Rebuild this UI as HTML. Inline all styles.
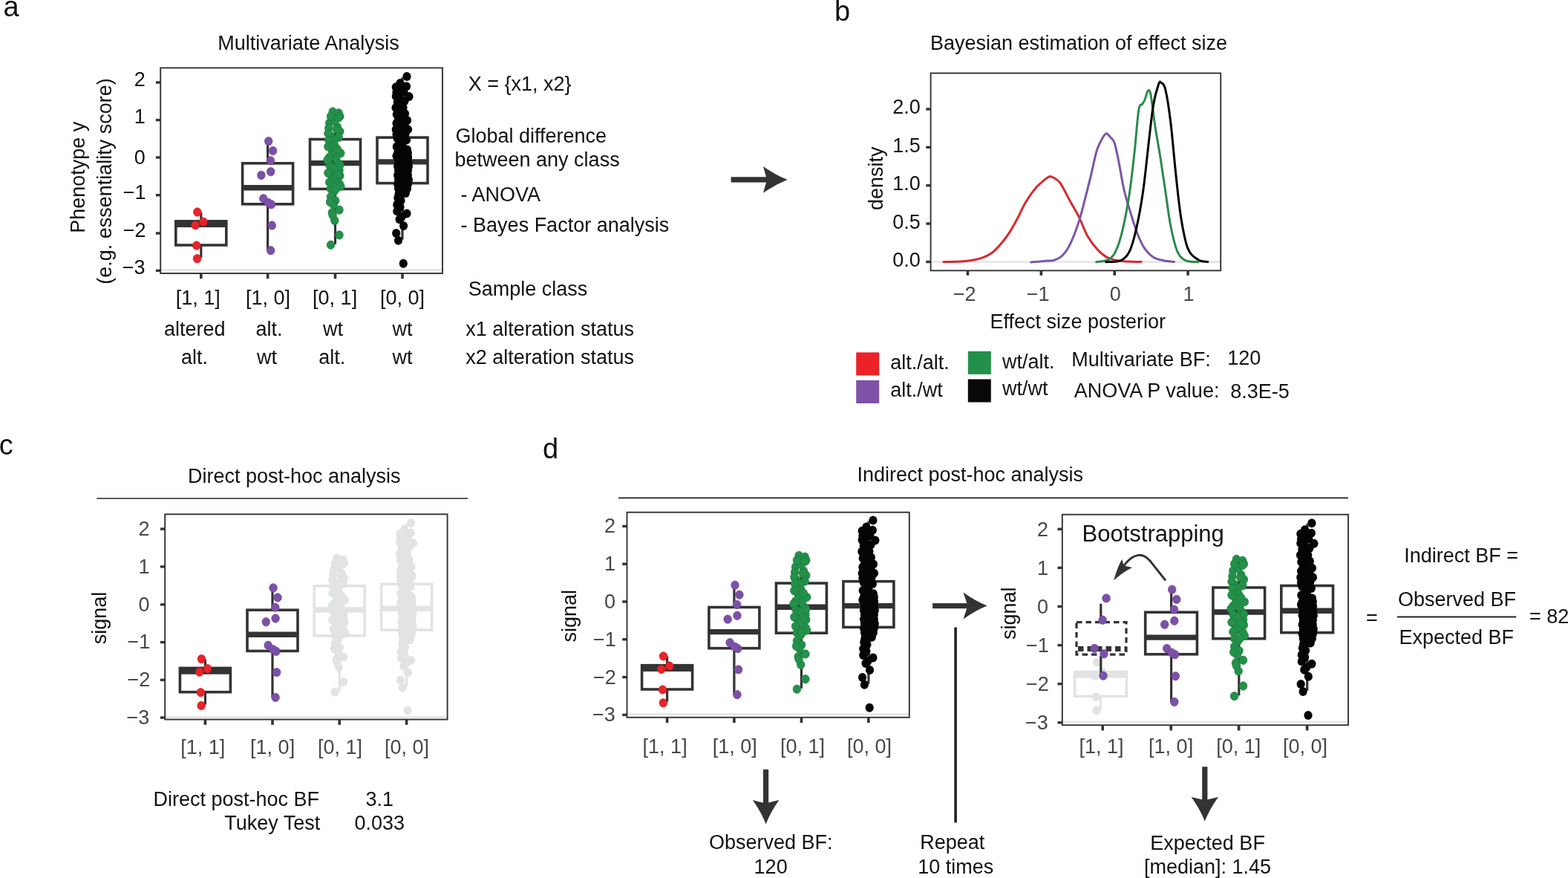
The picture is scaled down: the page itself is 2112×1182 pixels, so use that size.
<!DOCTYPE html>
<html><head><meta charset="utf-8"><title>Figure</title><style>html,body{margin:0;padding:0;background:#fff;overflow:hidden}svg{display:block}</style></head><body>
<svg width="2112" height="1182" viewBox="0 0 2112 1182" style="font-family:'Liberation Sans',Arial,Helvetica,sans-serif">
<rect width="2112" height="1182" fill="#fff"/>
<text x="4.40" y="22.00" font-size="38" fill="#111111">a</text>
<text x="293.20" y="66.80" font-size="27" fill="#111111">Multivariate Analysis</text>
<rect x="216.2" y="91.4" width="379.8" height="276.6" fill="#fff"/>
<line x1="216.20" y1="363.50" x2="596.00" y2="363.50" stroke="#E8E8E8" stroke-width="3.2" />
<line x1="270.80" y1="297.80" x2="270.80" y2="285.80" stroke="#333333" stroke-width="3.2" />
<line x1="270.80" y1="330.00" x2="270.80" y2="346.90" stroke="#333333" stroke-width="3.2" />
<rect x="236.8" y="297.8" width="68.0" height="32.2" fill="none" stroke="#333333" stroke-width="3.6"/>
<line x1="236.80" y1="302.40" x2="304.80" y2="302.40" stroke="#333333" stroke-width="7.4" />
<ellipse cx="265.8" cy="285.5" rx="5.3" ry="5.7" fill="#E8232A" stroke="#d41c22" stroke-width="0.7"/>
<ellipse cx="273.9" cy="298.6" rx="5.3" ry="5.7" fill="#E8232A" stroke="#d41c22" stroke-width="0.7"/>
<ellipse cx="263.1" cy="303.1" rx="5.3" ry="5.7" fill="#E8232A" stroke="#d41c22" stroke-width="0.7"/>
<ellipse cx="264.7" cy="330.5" rx="5.3" ry="5.7" fill="#E8232A" stroke="#d41c22" stroke-width="0.7"/>
<ellipse cx="265.5" cy="348.2" rx="5.3" ry="5.7" fill="#E8232A" stroke="#d41c22" stroke-width="0.7"/>
<line x1="360.60" y1="219.80" x2="360.60" y2="190.90" stroke="#333333" stroke-width="3.2" />
<line x1="360.60" y1="274.80" x2="360.60" y2="337.20" stroke="#333333" stroke-width="3.2" />
<rect x="326.6" y="219.8" width="68.0" height="55.0" fill="none" stroke="#333333" stroke-width="3.6"/>
<line x1="326.60" y1="252.80" x2="394.60" y2="252.80" stroke="#333333" stroke-width="7.4" />
<ellipse cx="361.7" cy="190.1" rx="5.3" ry="5.7" fill="#7D50A8" stroke="#6c4396" stroke-width="0.7"/>
<ellipse cx="367.6" cy="203.0" rx="5.3" ry="5.7" fill="#7D50A8" stroke="#6c4396" stroke-width="0.7"/>
<ellipse cx="364.4" cy="216.3" rx="5.3" ry="5.7" fill="#7D50A8" stroke="#6c4396" stroke-width="0.7"/>
<ellipse cx="364.7" cy="231.1" rx="5.3" ry="5.7" fill="#7D50A8" stroke="#6c4396" stroke-width="0.7"/>
<ellipse cx="351.9" cy="235.9" rx="5.3" ry="5.7" fill="#7D50A8" stroke="#6c4396" stroke-width="0.7"/>
<ellipse cx="354.8" cy="267.3" rx="5.3" ry="5.7" fill="#7D50A8" stroke="#6c4396" stroke-width="0.7"/>
<ellipse cx="365.5" cy="275.3" rx="5.3" ry="5.7" fill="#7D50A8" stroke="#6c4396" stroke-width="0.7"/>
<ellipse cx="361.5" cy="272.9" rx="5.3" ry="5.7" fill="#7D50A8" stroke="#6c4396" stroke-width="0.7"/>
<ellipse cx="366.3" cy="303.5" rx="5.3" ry="5.7" fill="#7D50A8" stroke="#6c4396" stroke-width="0.7"/>
<ellipse cx="364.7" cy="337.2" rx="5.3" ry="5.7" fill="#7D50A8" stroke="#6c4396" stroke-width="0.7"/>
<line x1="451.50" y1="187.50" x2="451.50" y2="148.00" stroke="#333333" stroke-width="3.2" />
<line x1="451.50" y1="254.40" x2="451.50" y2="328.80" stroke="#333333" stroke-width="3.2" />
<rect x="417.5" y="187.5" width="68.0" height="66.9" fill="none" stroke="#333333" stroke-width="3.6"/>
<line x1="417.50" y1="219.60" x2="485.50" y2="219.60" stroke="#333333" stroke-width="7.4" />
<ellipse cx="448.2" cy="150.4" rx="5.3" ry="5.7" fill="#23914A" stroke="#1c7a3c" stroke-width="0.7"/>
<ellipse cx="456.1" cy="152.2" rx="5.3" ry="5.7" fill="#23914A" stroke="#1c7a3c" stroke-width="0.7"/>
<ellipse cx="457.9" cy="156.6" rx="5.3" ry="5.7" fill="#23914A" stroke="#1c7a3c" stroke-width="0.7"/>
<ellipse cx="443.7" cy="165.5" rx="5.3" ry="5.7" fill="#23914A" stroke="#1c7a3c" stroke-width="0.7"/>
<ellipse cx="442.8" cy="172.6" rx="5.3" ry="5.7" fill="#23914A" stroke="#1c7a3c" stroke-width="0.7"/>
<ellipse cx="454.4" cy="170.8" rx="5.3" ry="5.7" fill="#23914A" stroke="#1c7a3c" stroke-width="0.7"/>
<ellipse cx="457.9" cy="177.0" rx="5.3" ry="5.7" fill="#23914A" stroke="#1c7a3c" stroke-width="0.7"/>
<ellipse cx="445.5" cy="183.2" rx="5.3" ry="5.7" fill="#23914A" stroke="#1c7a3c" stroke-width="0.7"/>
<ellipse cx="456.1" cy="185.0" rx="5.3" ry="5.7" fill="#23914A" stroke="#1c7a3c" stroke-width="0.7"/>
<ellipse cx="449.9" cy="188.6" rx="5.3" ry="5.7" fill="#23914A" stroke="#1c7a3c" stroke-width="0.7"/>
<ellipse cx="444.6" cy="193.9" rx="5.3" ry="5.7" fill="#23914A" stroke="#1c7a3c" stroke-width="0.7"/>
<ellipse cx="450.8" cy="195.7" rx="5.3" ry="5.7" fill="#23914A" stroke="#1c7a3c" stroke-width="0.7"/>
<ellipse cx="458.8" cy="206.3" rx="5.3" ry="5.7" fill="#23914A" stroke="#1c7a3c" stroke-width="0.7"/>
<ellipse cx="447.3" cy="202.8" rx="5.3" ry="5.7" fill="#23914A" stroke="#1c7a3c" stroke-width="0.7"/>
<ellipse cx="448.2" cy="208.1" rx="5.3" ry="5.7" fill="#23914A" stroke="#1c7a3c" stroke-width="0.7"/>
<ellipse cx="443.7" cy="222.3" rx="5.3" ry="5.7" fill="#23914A" stroke="#1c7a3c" stroke-width="0.7"/>
<ellipse cx="454.4" cy="218.8" rx="5.3" ry="5.7" fill="#23914A" stroke="#1c7a3c" stroke-width="0.7"/>
<ellipse cx="445.5" cy="229.4" rx="5.3" ry="5.7" fill="#23914A" stroke="#1c7a3c" stroke-width="0.7"/>
<ellipse cx="457.0" cy="229.4" rx="5.3" ry="5.7" fill="#23914A" stroke="#1c7a3c" stroke-width="0.7"/>
<ellipse cx="446.4" cy="236.5" rx="5.3" ry="5.7" fill="#23914A" stroke="#1c7a3c" stroke-width="0.7"/>
<ellipse cx="457.9" cy="236.5" rx="5.3" ry="5.7" fill="#23914A" stroke="#1c7a3c" stroke-width="0.7"/>
<ellipse cx="448.2" cy="243.6" rx="5.3" ry="5.7" fill="#23914A" stroke="#1c7a3c" stroke-width="0.7"/>
<ellipse cx="457.0" cy="247.1" rx="5.3" ry="5.7" fill="#23914A" stroke="#1c7a3c" stroke-width="0.7"/>
<ellipse cx="458.8" cy="250.7" rx="5.3" ry="5.7" fill="#23914A" stroke="#1c7a3c" stroke-width="0.7"/>
<ellipse cx="445.5" cy="254.2" rx="5.3" ry="5.7" fill="#23914A" stroke="#1c7a3c" stroke-width="0.7"/>
<ellipse cx="449.9" cy="257.8" rx="5.3" ry="5.7" fill="#23914A" stroke="#1c7a3c" stroke-width="0.7"/>
<ellipse cx="445.5" cy="264.9" rx="5.3" ry="5.7" fill="#23914A" stroke="#1c7a3c" stroke-width="0.7"/>
<ellipse cx="451.7" cy="270.2" rx="5.3" ry="5.7" fill="#23914A" stroke="#1c7a3c" stroke-width="0.7"/>
<ellipse cx="449.1" cy="275.5" rx="5.3" ry="5.7" fill="#23914A" stroke="#1c7a3c" stroke-width="0.7"/>
<ellipse cx="457.0" cy="282.6" rx="5.3" ry="5.7" fill="#23914A" stroke="#1c7a3c" stroke-width="0.7"/>
<ellipse cx="447.3" cy="286.2" rx="5.3" ry="5.7" fill="#23914A" stroke="#1c7a3c" stroke-width="0.7"/>
<ellipse cx="450.8" cy="296.9" rx="5.3" ry="5.7" fill="#23914A" stroke="#1c7a3c" stroke-width="0.7"/>
<ellipse cx="457.0" cy="316.4" rx="5.3" ry="5.7" fill="#23914A" stroke="#1c7a3c" stroke-width="0.7"/>
<ellipse cx="445.5" cy="329.7" rx="5.3" ry="5.7" fill="#23914A" stroke="#1c7a3c" stroke-width="0.7"/>
<ellipse cx="452.6" cy="213.4" rx="5.3" ry="5.7" fill="#23914A" stroke="#1c7a3c" stroke-width="0.7"/>
<ellipse cx="451.7" cy="225.8" rx="5.3" ry="5.7" fill="#23914A" stroke="#1c7a3c" stroke-width="0.7"/>
<ellipse cx="450.8" cy="240.1" rx="5.3" ry="5.7" fill="#23914A" stroke="#1c7a3c" stroke-width="0.7"/>
<ellipse cx="453.5" cy="174.4" rx="5.3" ry="5.7" fill="#23914A" stroke="#1c7a3c" stroke-width="0.7"/>
<ellipse cx="450.8" cy="161.9" rx="5.3" ry="5.7" fill="#23914A" stroke="#1c7a3c" stroke-width="0.7"/>
<ellipse cx="441.9" cy="179.7" rx="5.3" ry="5.7" fill="#23914A" stroke="#1c7a3c" stroke-width="0.7"/>
<ellipse cx="442.8" cy="188.6" rx="5.3" ry="5.7" fill="#23914A" stroke="#1c7a3c" stroke-width="0.7"/>
<ellipse cx="443.7" cy="211.6" rx="5.3" ry="5.7" fill="#23914A" stroke="#1c7a3c" stroke-width="0.7"/>
<ellipse cx="441.9" cy="232.9" rx="5.3" ry="5.7" fill="#23914A" stroke="#1c7a3c" stroke-width="0.7"/>
<ellipse cx="454.4" cy="201.0" rx="5.3" ry="5.7" fill="#23914A" stroke="#1c7a3c" stroke-width="0.7"/>
<ellipse cx="455.3" cy="234.7" rx="5.3" ry="5.7" fill="#23914A" stroke="#1c7a3c" stroke-width="0.7"/>
<ellipse cx="443.7" cy="245.4" rx="5.3" ry="5.7" fill="#23914A" stroke="#1c7a3c" stroke-width="0.7"/>
<ellipse cx="452.6" cy="254.2" rx="5.3" ry="5.7" fill="#23914A" stroke="#1c7a3c" stroke-width="0.7"/>
<ellipse cx="444.6" cy="272.0" rx="5.3" ry="5.7" fill="#23914A" stroke="#1c7a3c" stroke-width="0.7"/>
<ellipse cx="448.2" cy="289.8" rx="5.3" ry="5.7" fill="#23914A" stroke="#1c7a3c" stroke-width="0.7"/>
<ellipse cx="456.1" cy="158.4" rx="5.3" ry="5.7" fill="#23914A" stroke="#1c7a3c" stroke-width="0.7"/>
<ellipse cx="445.5" cy="156.6" rx="5.3" ry="5.7" fill="#23914A" stroke="#1c7a3c" stroke-width="0.7"/>
<ellipse cx="441.9" cy="197.4" rx="5.3" ry="5.7" fill="#23914A" stroke="#1c7a3c" stroke-width="0.7"/>
<ellipse cx="457.9" cy="222.3" rx="5.3" ry="5.7" fill="#23914A" stroke="#1c7a3c" stroke-width="0.7"/>
<ellipse cx="441.1" cy="215.2" rx="5.3" ry="5.7" fill="#23914A" stroke="#1c7a3c" stroke-width="0.7"/>
<line x1="542.00" y1="185.10" x2="542.00" y2="104.20" stroke="#333333" stroke-width="3.2" />
<line x1="542.00" y1="246.60" x2="542.00" y2="322.50" stroke="#333333" stroke-width="3.2" />
<rect x="508.0" y="185.1" width="68.0" height="61.5" fill="none" stroke="#333333" stroke-width="3.6"/>
<line x1="508.00" y1="217.90" x2="576.00" y2="217.90" stroke="#333333" stroke-width="7.4" />
<ellipse cx="548.0" cy="103.1" rx="5.6" ry="6.0" fill="#050505"/>
<ellipse cx="547.5" cy="116.3" rx="5.6" ry="6.0" fill="#050505"/>
<ellipse cx="533.3" cy="117.3" rx="5.6" ry="6.0" fill="#050505"/>
<ellipse cx="551.0" cy="130.0" rx="5.6" ry="6.0" fill="#050505"/>
<ellipse cx="533.3" cy="129.5" rx="5.6" ry="6.0" fill="#050505"/>
<ellipse cx="535.3" cy="137.6" rx="5.6" ry="6.0" fill="#050505"/>
<ellipse cx="538.3" cy="142.7" rx="5.6" ry="6.0" fill="#050505"/>
<ellipse cx="534.3" cy="153.9" rx="5.6" ry="6.0" fill="#050505"/>
<ellipse cx="545.5" cy="152.9" rx="5.6" ry="6.0" fill="#050505"/>
<ellipse cx="548.5" cy="162.0" rx="5.6" ry="6.0" fill="#050505"/>
<ellipse cx="536.3" cy="162.0" rx="5.6" ry="6.0" fill="#050505"/>
<ellipse cx="533.3" cy="174.2" rx="5.6" ry="6.0" fill="#050505"/>
<ellipse cx="549.5" cy="174.2" rx="5.6" ry="6.0" fill="#050505"/>
<ellipse cx="541.4" cy="172.1" rx="5.6" ry="6.0" fill="#050505"/>
<ellipse cx="535.3" cy="186.4" rx="5.6" ry="6.0" fill="#050505"/>
<ellipse cx="547.5" cy="188.4" rx="5.6" ry="6.0" fill="#050505"/>
<ellipse cx="534.3" cy="197.5" rx="5.6" ry="6.0" fill="#050505"/>
<ellipse cx="548.5" cy="201.6" rx="5.6" ry="6.0" fill="#050505"/>
<ellipse cx="539.4" cy="211.7" rx="5.6" ry="6.0" fill="#050505"/>
<ellipse cx="549.5" cy="211.7" rx="5.6" ry="6.0" fill="#050505"/>
<ellipse cx="535.9" cy="266.6" rx="5.6" ry="6.0" fill="#050505"/>
<ellipse cx="534.8" cy="275.4" rx="5.6" ry="6.0" fill="#050505"/>
<ellipse cx="534.8" cy="284.2" rx="5.6" ry="6.0" fill="#050505"/>
<ellipse cx="548.0" cy="287.5" rx="5.6" ry="6.0" fill="#050505"/>
<ellipse cx="538.1" cy="295.2" rx="5.6" ry="6.0" fill="#050505"/>
<ellipse cx="543.6" cy="304.0" rx="5.6" ry="6.0" fill="#050505"/>
<ellipse cx="533.7" cy="313.9" rx="5.6" ry="6.0" fill="#050505"/>
<ellipse cx="536.5" cy="323.8" rx="5.6" ry="6.0" fill="#050505"/>
<ellipse cx="543.3" cy="354.7" rx="5.6" ry="6.0" fill="#050505"/>
<ellipse cx="540.0" cy="123.0" rx="5.6" ry="6.0" fill="#050505"/>
<ellipse cx="538.0" cy="133.0" rx="5.6" ry="6.0" fill="#050505"/>
<ellipse cx="540.0" cy="148.0" rx="5.6" ry="6.0" fill="#050505"/>
<ellipse cx="541.0" cy="158.0" rx="5.6" ry="6.0" fill="#050505"/>
<ellipse cx="542.0" cy="166.0" rx="5.6" ry="6.0" fill="#050505"/>
<ellipse cx="540.0" cy="180.0" rx="5.6" ry="6.0" fill="#050505"/>
<ellipse cx="541.0" cy="192.0" rx="5.6" ry="6.0" fill="#050505"/>
<ellipse cx="540.0" cy="204.0" rx="5.6" ry="6.0" fill="#050505"/>
<ellipse cx="536.0" cy="208.0" rx="5.6" ry="6.0" fill="#050505"/>
<ellipse cx="539.0" cy="112.0" rx="5.6" ry="6.0" fill="#050505"/>
<ellipse cx="538.0" cy="120.0" rx="5.6" ry="6.0" fill="#050505"/>
<ellipse cx="534.0" cy="124.0" rx="5.6" ry="6.0" fill="#050505"/>
<ellipse cx="537.0" cy="128.0" rx="5.6" ry="6.0" fill="#050505"/>
<ellipse cx="544.0" cy="124.0" rx="5.6" ry="6.0" fill="#050505"/>
<ellipse cx="545.0" cy="136.0" rx="5.6" ry="6.0" fill="#050505"/>
<ellipse cx="539.0" cy="139.0" rx="5.6" ry="6.0" fill="#050505"/>
<ellipse cx="533.0" cy="145.0" rx="5.6" ry="6.0" fill="#050505"/>
<ellipse cx="538.0" cy="150.0" rx="5.6" ry="6.0" fill="#050505"/>
<ellipse cx="543.0" cy="145.0" rx="5.6" ry="6.0" fill="#050505"/>
<ellipse cx="544.0" cy="158.0" rx="5.6" ry="6.0" fill="#050505"/>
<ellipse cx="534.0" cy="166.0" rx="5.6" ry="6.0" fill="#050505"/>
<ellipse cx="539.0" cy="170.0" rx="5.6" ry="6.0" fill="#050505"/>
<ellipse cx="545.0" cy="168.0" rx="5.6" ry="6.0" fill="#050505"/>
<ellipse cx="546.0" cy="180.0" rx="5.6" ry="6.0" fill="#050505"/>
<ellipse cx="534.0" cy="181.0" rx="5.6" ry="6.0" fill="#050505"/>
<ellipse cx="538.0" cy="186.0" rx="5.6" ry="6.0" fill="#050505"/>
<ellipse cx="542.0" cy="197.0" rx="5.6" ry="6.0" fill="#050505"/>
<ellipse cx="537.0" cy="202.0" rx="5.6" ry="6.0" fill="#050505"/>
<ellipse cx="545.0" cy="206.0" rx="5.6" ry="6.0" fill="#050505"/>
<ellipse cx="534.0" cy="210.0" rx="5.6" ry="6.0" fill="#050505"/>
<ellipse cx="540.0" cy="270.0" rx="5.6" ry="6.0" fill="#050505"/>
<ellipse cx="539.0" cy="279.0" rx="5.6" ry="6.0" fill="#050505"/>
<ellipse cx="541.0" cy="292.0" rx="5.6" ry="6.0" fill="#050505"/>
<ellipse cx="537.0" cy="262.0" rx="5.6" ry="6.0" fill="#050505"/>
<ellipse cx="535.6" cy="206.0" rx="5.6" ry="6.0" fill="#050505"/>
<ellipse cx="539.6" cy="206.0" rx="5.6" ry="6.0" fill="#050505"/>
<ellipse cx="543.6" cy="206.0" rx="5.6" ry="6.0" fill="#050505"/>
<ellipse cx="547.6" cy="206.0" rx="5.6" ry="6.0" fill="#050505"/>
<ellipse cx="549.4" cy="206.0" rx="5.6" ry="6.0" fill="#050505"/>
<ellipse cx="535.6" cy="212.0" rx="5.6" ry="6.0" fill="#050505"/>
<ellipse cx="539.6" cy="212.0" rx="5.6" ry="6.0" fill="#050505"/>
<ellipse cx="543.6" cy="212.0" rx="5.6" ry="6.0" fill="#050505"/>
<ellipse cx="547.6" cy="212.0" rx="5.6" ry="6.0" fill="#050505"/>
<ellipse cx="549.4" cy="212.0" rx="5.6" ry="6.0" fill="#050505"/>
<ellipse cx="536.6" cy="218.0" rx="5.6" ry="6.0" fill="#050505"/>
<ellipse cx="540.6" cy="218.0" rx="5.6" ry="6.0" fill="#050505"/>
<ellipse cx="544.6" cy="218.0" rx="5.6" ry="6.0" fill="#050505"/>
<ellipse cx="548.6" cy="218.0" rx="5.6" ry="6.0" fill="#050505"/>
<ellipse cx="549.4" cy="218.0" rx="5.6" ry="6.0" fill="#050505"/>
<ellipse cx="535.6" cy="224.0" rx="5.6" ry="6.0" fill="#050505"/>
<ellipse cx="539.6" cy="224.0" rx="5.6" ry="6.0" fill="#050505"/>
<ellipse cx="543.6" cy="224.0" rx="5.6" ry="6.0" fill="#050505"/>
<ellipse cx="547.6" cy="224.0" rx="5.6" ry="6.0" fill="#050505"/>
<ellipse cx="550.4" cy="224.0" rx="5.6" ry="6.0" fill="#050505"/>
<ellipse cx="536.6" cy="230.0" rx="5.6" ry="6.0" fill="#050505"/>
<ellipse cx="540.6" cy="230.0" rx="5.6" ry="6.0" fill="#050505"/>
<ellipse cx="544.6" cy="230.0" rx="5.6" ry="6.0" fill="#050505"/>
<ellipse cx="548.6" cy="230.0" rx="5.6" ry="6.0" fill="#050505"/>
<ellipse cx="549.4" cy="230.0" rx="5.6" ry="6.0" fill="#050505"/>
<ellipse cx="535.6" cy="236.0" rx="5.6" ry="6.0" fill="#050505"/>
<ellipse cx="539.6" cy="236.0" rx="5.6" ry="6.0" fill="#050505"/>
<ellipse cx="543.6" cy="236.0" rx="5.6" ry="6.0" fill="#050505"/>
<ellipse cx="547.6" cy="236.0" rx="5.6" ry="6.0" fill="#050505"/>
<ellipse cx="549.4" cy="236.0" rx="5.6" ry="6.0" fill="#050505"/>
<ellipse cx="536.6" cy="242.0" rx="5.6" ry="6.0" fill="#050505"/>
<ellipse cx="540.6" cy="242.0" rx="5.6" ry="6.0" fill="#050505"/>
<ellipse cx="544.6" cy="242.0" rx="5.6" ry="6.0" fill="#050505"/>
<ellipse cx="548.6" cy="242.0" rx="5.6" ry="6.0" fill="#050505"/>
<ellipse cx="550.4" cy="242.0" rx="5.6" ry="6.0" fill="#050505"/>
<ellipse cx="535.6" cy="248.0" rx="5.6" ry="6.0" fill="#050505"/>
<ellipse cx="539.6" cy="248.0" rx="5.6" ry="6.0" fill="#050505"/>
<ellipse cx="543.6" cy="248.0" rx="5.6" ry="6.0" fill="#050505"/>
<ellipse cx="547.6" cy="248.0" rx="5.6" ry="6.0" fill="#050505"/>
<ellipse cx="549.4" cy="248.0" rx="5.6" ry="6.0" fill="#050505"/>
<ellipse cx="536.6" cy="254.0" rx="5.6" ry="6.0" fill="#050505"/>
<ellipse cx="540.6" cy="254.0" rx="5.6" ry="6.0" fill="#050505"/>
<ellipse cx="544.6" cy="254.0" rx="5.6" ry="6.0" fill="#050505"/>
<ellipse cx="548.4" cy="254.0" rx="5.6" ry="6.0" fill="#050505"/>
<ellipse cx="537.6" cy="260.0" rx="5.6" ry="6.0" fill="#050505"/>
<ellipse cx="541.6" cy="260.0" rx="5.6" ry="6.0" fill="#050505"/>
<ellipse cx="545.6" cy="260.0" rx="5.6" ry="6.0" fill="#050505"/>
<ellipse cx="546.4" cy="260.0" rx="5.6" ry="6.0" fill="#050505"/>
<rect x="216.2" y="91.4" width="379.8" height="276.6" fill="none" stroke="#333333" stroke-width="1.9"/>
<line x1="209.90" y1="111.00" x2="216.20" y2="111.00" stroke="#333333" stroke-width="3.4" />
<text x="180.80" y="115.80" font-size="27" fill="#111111">2</text>
<line x1="209.90" y1="161.60" x2="216.20" y2="161.60" stroke="#333333" stroke-width="3.4" />
<text x="180.80" y="166.40" font-size="27" fill="#111111">1</text>
<line x1="209.90" y1="212.00" x2="216.20" y2="212.00" stroke="#333333" stroke-width="3.4" />
<text x="180.80" y="220.60" font-size="27" fill="#111111">0</text>
<line x1="209.90" y1="262.70" x2="216.20" y2="262.70" stroke="#333333" stroke-width="3.4" />
<text x="165.80" y="267.80" font-size="27" fill="#111111">−1</text>
<line x1="209.90" y1="314.00" x2="216.20" y2="314.00" stroke="#333333" stroke-width="3.4" />
<text x="165.80" y="318.70" font-size="27" fill="#111111">−2</text>
<line x1="209.90" y1="364.30" x2="216.20" y2="364.30" stroke="#333333" stroke-width="3.4" />
<text x="164.80" y="369.00" font-size="27" fill="#111111">−3</text>
<line x1="270.80" y1="368.00" x2="270.80" y2="375.20" stroke="#333333" stroke-width="3.6" />
<line x1="360.60" y1="368.00" x2="360.60" y2="375.20" stroke="#333333" stroke-width="3.6" />
<line x1="451.50" y1="368.00" x2="451.50" y2="375.20" stroke="#333333" stroke-width="3.6" />
<line x1="542.00" y1="368.00" x2="542.00" y2="375.20" stroke="#333333" stroke-width="3.6" />
<text x="236.80" y="409.60" font-size="27" fill="#111111">[1, 1]</text>
<text x="331.00" y="409.60" font-size="27" fill="#111111">[1, 0]</text>
<text x="421.10" y="409.60" font-size="27" fill="#111111">[0, 1]</text>
<text x="512.00" y="409.60" font-size="27" fill="#111111">[0, 0]</text>
<text transform="translate(114.30,313.80) rotate(-90)" font-size="27" fill="#111111">Phenotype y</text>
<text transform="translate(149.50,382.80) rotate(-90)" font-size="27" fill="#111111">(e.g. essentiality score)</text>
<text x="630.70" y="121.70" font-size="27" fill="#111111">X = {x1, x2}</text>
<text x="613.50" y="191.60" font-size="27" fill="#111111">Global difference</text>
<text x="612.50" y="223.90" font-size="27" fill="#111111">between any class</text>
<text x="620.60" y="271.30" font-size="27" fill="#111111">- ANOVA</text>
<text x="620.60" y="311.60" font-size="27" fill="#111111">- Bayes Factor analysis</text>
<text x="630.70" y="397.90" font-size="27" fill="#111111">Sample class</text>
<text x="220.90" y="452.10" font-size="27" fill="#111111">altered</text>
<text x="344.50" y="452.10" font-size="27" fill="#111111">alt.</text>
<text x="435.00" y="452.10" font-size="27" fill="#111111">wt</text>
<text x="528.40" y="452.10" font-size="27" fill="#111111">wt</text>
<text x="627.30" y="452.10" font-size="27" fill="#111111">x1 alteration status</text>
<text x="244.00" y="489.80" font-size="27" fill="#111111">alt.</text>
<text x="345.90" y="489.80" font-size="27" fill="#111111">wt</text>
<text x="429.20" y="489.80" font-size="27" fill="#111111">alt.</text>
<text x="528.40" y="489.80" font-size="27" fill="#111111">wt</text>
<text x="627.30" y="489.80" font-size="27" fill="#111111">x2 alteration status</text>
<rect x="984.6" y="238.25" width="49" height="7.3" fill="#333"/>
<path d="M1060.50,241.90 Q1044.25,248.25 1028.00,259.80 Q1030.75,249.96 1033.00,241.90 Q1030.75,233.84 1028.00,224.00 Q1044.25,235.55 1060.50,241.90 Z" fill="#333"/>
<text x="1124.10" y="28.10" font-size="38" fill="#111111">b</text>
<text x="1252.90" y="66.90" font-size="27" fill="#111111">Bayesian estimation of effect size</text>
<rect x="1253.6" y="98.5" width="390.6" height="265.8" fill="#fff"/>
<line x1="1253.60" y1="352.50" x2="1644.20" y2="352.50" stroke="#E8E8E8" stroke-width="3" />
<path d="M1270.9,352.7 C1274.6,352.6 1286.5,352.5 1293.1,352.1 C1299.7,351.7 1305.1,351.2 1310.4,350.3 C1315.7,349.4 1320.5,348.1 1324.8,346.4 C1329.1,344.7 1332.5,343.1 1336.3,340.2 C1340.1,337.2 1344.0,333.1 1347.8,328.7 C1351.6,324.3 1355.5,319.5 1359.3,313.6 C1363.1,307.7 1367.2,300.2 1370.8,293.5 C1374.4,286.8 1377.1,279.8 1380.9,273.3 C1384.7,266.8 1390.2,259.1 1393.8,254.6 C1397.4,250.0 1399.3,248.8 1402.4,246.0 C1405.5,243.2 1409.9,239.3 1412.5,238.1 C1415.1,236.9 1415.6,237.5 1418.2,238.8 C1420.8,240.2 1424.0,240.7 1427.9,246.2 C1431.9,251.7 1437.6,264.1 1441.9,271.8 C1446.2,279.6 1449.6,284.9 1453.5,292.7 C1457.4,300.4 1460.8,310.9 1465.1,318.3 C1469.4,325.7 1474.4,332.0 1479.1,336.9 C1483.8,341.8 1487.6,344.9 1493.0,347.4 C1498.4,349.8 1504.2,350.8 1511.6,351.6 C1519.0,352.5 1532.9,352.4 1537.2,352.5" fill="none" stroke="#D52A30" stroke-width="3.0" stroke-linejoin="round" stroke-linecap="round"/>
<path d="M1388.8,353.1 C1392.0,352.8 1403.0,351.8 1408.2,351.3 C1413.4,350.8 1415.9,351.6 1419.7,350.3 C1423.5,349.1 1427.5,347.6 1431.2,343.8 C1434.9,340.0 1438.2,335.3 1441.9,327.6 C1445.6,319.9 1450.0,308.2 1453.5,297.4 C1457.0,286.5 1460.1,273.0 1462.8,262.5 C1465.5,252.0 1467.5,244.3 1469.8,234.6 C1472.1,224.9 1474.7,211.7 1476.8,204.3 C1478.9,196.9 1480.5,194.5 1482.6,190.4 C1484.7,186.3 1487.5,180.9 1489.6,179.9 C1491.7,178.9 1493.5,182.5 1495.4,184.6 C1497.3,186.7 1499.3,187.1 1501.2,192.7 C1503.1,198.3 1504.9,207.8 1507.0,218.3 C1509.1,228.8 1511.3,243.9 1514.0,255.5 C1516.7,267.1 1520.2,278.0 1523.3,288.1 C1526.4,298.2 1529.5,308.2 1532.6,316.0 C1535.7,323.8 1538.4,329.6 1541.9,334.6 C1545.4,339.6 1549.2,343.5 1553.5,346.2 C1557.8,348.9 1562.8,349.8 1567.5,350.8 C1572.2,351.9 1579.1,352.2 1581.4,352.5" fill="none" stroke="#7B55A7" stroke-width="3.0" stroke-linejoin="round" stroke-linecap="round"/>
<path d="M1476.8,352.7 C1479.5,352.2 1488.8,351.9 1493.0,349.7 C1497.2,347.4 1499.2,345.6 1502.3,339.2 C1505.4,332.8 1508.5,324.1 1511.6,311.3 C1514.7,298.5 1518.3,279.9 1521.0,262.5 C1523.7,245.1 1525.8,225.6 1527.9,206.6 C1530.0,187.6 1532.0,159.5 1533.7,148.5 C1535.5,137.5 1537.0,142.7 1538.4,140.4 C1539.8,138.1 1540.6,137.5 1541.9,134.5 C1543.2,131.5 1544.8,123.6 1546.1,122.4 C1547.4,121.2 1548.4,119.8 1550.0,127.6 C1551.6,135.4 1553.7,155.4 1555.8,169.4 C1557.9,183.4 1560.5,196.6 1562.8,211.3 C1565.1,226.0 1567.5,242.3 1569.8,257.8 C1572.1,273.3 1574.1,290.7 1576.8,304.3 C1579.5,317.9 1582.6,331.4 1586.1,339.2 C1589.6,347.0 1593.0,348.6 1597.7,350.9 C1602.4,353.1 1611.3,352.4 1614.0,352.7" fill="none" stroke="#2B8A4C" stroke-width="3.0" stroke-linejoin="round" stroke-linecap="round"/>
<path d="M1489.6,352.7 C1492.9,352.4 1504.1,353.1 1509.3,350.9 C1514.5,348.6 1517.5,346.2 1521.0,339.2 C1524.5,332.2 1527.2,322.6 1530.3,309.0 C1533.4,295.4 1536.7,278.0 1539.6,257.8 C1542.5,237.6 1545.4,207.4 1547.7,188.0 C1550.0,168.6 1551.4,153.9 1553.5,141.5 C1555.6,129.1 1558.8,118.6 1560.5,113.6 C1562.2,108.6 1562.5,110.1 1564.0,111.3 C1565.5,112.5 1567.7,111.7 1569.8,120.6 C1571.9,129.5 1574.5,145.8 1576.8,164.8 C1579.1,183.8 1581.5,213.3 1583.8,234.6 C1586.1,255.9 1588.0,276.0 1590.7,292.7 C1593.4,309.4 1596.1,325.1 1600.0,334.6 C1603.9,344.1 1609.5,346.7 1614.0,349.7 C1618.5,352.7 1624.7,352.0 1626.8,352.5" fill="none" stroke="#000" stroke-width="3.0" stroke-linejoin="round" stroke-linecap="round"/>
<rect x="1253.6" y="98.5" width="390.6" height="265.8" fill="none" stroke="#333333" stroke-width="1.9"/>
<line x1="1247.30" y1="352.50" x2="1253.60" y2="352.50" stroke="#333333" stroke-width="3.4" />
<text x="1202.20" y="358.90" font-size="27" fill="#111111">0.0</text>
<line x1="1247.30" y1="301.10" x2="1253.60" y2="301.10" stroke="#333333" stroke-width="3.4" />
<text x="1202.20" y="307.50" font-size="27" fill="#111111">0.5</text>
<line x1="1247.30" y1="249.70" x2="1253.60" y2="249.70" stroke="#333333" stroke-width="3.4" />
<text x="1202.20" y="256.10" font-size="27" fill="#111111">1.0</text>
<line x1="1247.30" y1="198.30" x2="1253.60" y2="198.30" stroke="#333333" stroke-width="3.4" />
<text x="1202.20" y="204.70" font-size="27" fill="#111111">1.5</text>
<line x1="1247.30" y1="146.90" x2="1253.60" y2="146.90" stroke="#333333" stroke-width="3.4" />
<text x="1202.20" y="153.30" font-size="27" fill="#111111">2.0</text>
<line x1="1303.50" y1="364.30" x2="1303.50" y2="370.80" stroke="#333333" stroke-width="3.6" />
<text x="1283.80" y="404.70" font-size="27" fill="#474747">−2</text>
<line x1="1402.35" y1="364.30" x2="1402.35" y2="370.80" stroke="#333333" stroke-width="3.6" />
<text x="1382.70" y="404.70" font-size="27" fill="#474747">−1</text>
<line x1="1501.20" y1="364.30" x2="1501.20" y2="370.80" stroke="#333333" stroke-width="3.6" />
<text x="1494.80" y="404.70" font-size="27" fill="#474747">0</text>
<line x1="1600.05" y1="364.30" x2="1600.05" y2="370.80" stroke="#333333" stroke-width="3.6" />
<text x="1593.50" y="404.70" font-size="27" fill="#474747">1</text>
<text x="1333.40" y="441.60" font-size="27" fill="#111111">Effect size posterior</text>
<text transform="translate(1188.80,283.10) rotate(-90)" font-size="27" fill="#111111">density</text>
<rect x="1153.2" y="474.4" width="31" height="31" fill="#EC2227"/>
<rect x="1153.2" y="512" width="31" height="31" fill="#7F51A7"/>
<rect x="1303.8" y="472.9" width="31" height="31" fill="#22904A"/>
<rect x="1303.8" y="510.5" width="31" height="31" fill="#080808"/>
<text x="1199.20" y="497.00" font-size="27" fill="#111111">alt./alt.</text>
<text x="1199.20" y="533.70" font-size="27" fill="#111111">alt./wt</text>
<text x="1350.00" y="495.50" font-size="27" fill="#111111">wt/alt.</text>
<text x="1350.00" y="532.00" font-size="27" fill="#111111">wt/wt</text>
<text x="1443.30" y="493.00" font-size="27" fill="#111111">Multivariate BF:</text>
<text x="1653.30" y="491.00" font-size="27" fill="#111111">120</text>
<text x="1446.80" y="535.00" font-size="27" fill="#111111">ANOVA P value:</text>
<text x="1657.20" y="535.70" font-size="27" fill="#111111">8.3E-5</text>
<text x="-1.20" y="612.20" font-size="38" fill="#111111">c</text>
<text x="252.90" y="649.60" font-size="27" fill="#111111">Direct post-hoc analysis</text>
<line x1="130.30" y1="671.00" x2="630.00" y2="671.00" stroke="#222" stroke-width="1.7" />
<rect x="222.2" y="692.3" width="380.4" height="276.3" fill="#fff"/>
<line x1="222.20" y1="965.30" x2="602.60" y2="965.30" stroke="#E8E8E8" stroke-width="3.2" />
<line x1="276.40" y1="899.42" x2="276.40" y2="887.38" stroke="#333333" stroke-width="3.2" />
<line x1="276.40" y1="931.71" x2="276.40" y2="948.65" stroke="#333333" stroke-width="3.2" />
<rect x="242.4" y="899.4" width="68.0" height="32.3" fill="none" stroke="#333333" stroke-width="3.6"/>
<line x1="242.40" y1="904.03" x2="310.40" y2="904.03" stroke="#333333" stroke-width="7.4" />
<ellipse cx="271.4" cy="887.1" rx="5.3" ry="5.7" fill="#E8232A" stroke="#d41c22" stroke-width="0.7"/>
<ellipse cx="279.5" cy="900.2" rx="5.3" ry="5.7" fill="#E8232A" stroke="#d41c22" stroke-width="0.7"/>
<ellipse cx="268.7" cy="904.7" rx="5.3" ry="5.7" fill="#E8232A" stroke="#d41c22" stroke-width="0.7"/>
<ellipse cx="270.3" cy="932.2" rx="5.3" ry="5.7" fill="#E8232A" stroke="#d41c22" stroke-width="0.7"/>
<ellipse cx="271.1" cy="950.0" rx="5.3" ry="5.7" fill="#E8232A" stroke="#d41c22" stroke-width="0.7"/>
<line x1="367.00" y1="821.20" x2="367.00" y2="792.22" stroke="#333333" stroke-width="3.2" />
<line x1="367.00" y1="876.35" x2="367.00" y2="938.93" stroke="#333333" stroke-width="3.2" />
<rect x="333.0" y="821.2" width="68.0" height="55.2" fill="none" stroke="#333333" stroke-width="3.6"/>
<line x1="333.00" y1="854.29" x2="401.00" y2="854.29" stroke="#333333" stroke-width="7.4" />
<ellipse cx="368.1" cy="791.4" rx="5.3" ry="5.7" fill="#7D50A8" stroke="#6c4396" stroke-width="0.7"/>
<ellipse cx="374.0" cy="804.4" rx="5.3" ry="5.7" fill="#7D50A8" stroke="#6c4396" stroke-width="0.7"/>
<ellipse cx="370.8" cy="817.7" rx="5.3" ry="5.7" fill="#7D50A8" stroke="#6c4396" stroke-width="0.7"/>
<ellipse cx="371.1" cy="832.5" rx="5.3" ry="5.7" fill="#7D50A8" stroke="#6c4396" stroke-width="0.7"/>
<ellipse cx="358.3" cy="837.3" rx="5.3" ry="5.7" fill="#7D50A8" stroke="#6c4396" stroke-width="0.7"/>
<ellipse cx="361.2" cy="868.8" rx="5.3" ry="5.7" fill="#7D50A8" stroke="#6c4396" stroke-width="0.7"/>
<ellipse cx="371.9" cy="876.9" rx="5.3" ry="5.7" fill="#7D50A8" stroke="#6c4396" stroke-width="0.7"/>
<ellipse cx="367.9" cy="874.4" rx="5.3" ry="5.7" fill="#7D50A8" stroke="#6c4396" stroke-width="0.7"/>
<ellipse cx="372.7" cy="905.1" rx="5.3" ry="5.7" fill="#7D50A8" stroke="#6c4396" stroke-width="0.7"/>
<ellipse cx="371.1" cy="938.9" rx="5.3" ry="5.7" fill="#7D50A8" stroke="#6c4396" stroke-width="0.7"/>
<line x1="457.20" y1="788.81" x2="457.20" y2="749.20" stroke="#E2E4E4" stroke-width="3.2" />
<line x1="457.20" y1="855.90" x2="457.20" y2="930.50" stroke="#E2E4E4" stroke-width="3.2" />
<rect x="423.2" y="788.8" width="68.0" height="67.1" fill="none" stroke="#E2E4E4" stroke-width="3.6"/>
<line x1="423.20" y1="821.00" x2="491.20" y2="821.00" stroke="#E2E4E4" stroke-width="7.4" />
<ellipse cx="453.9" cy="751.6" rx="5.6" ry="6.0" fill="#E2E4E4"/>
<ellipse cx="461.8" cy="753.4" rx="5.6" ry="6.0" fill="#E2E4E4"/>
<ellipse cx="463.6" cy="757.9" rx="5.6" ry="6.0" fill="#E2E4E4"/>
<ellipse cx="449.4" cy="766.8" rx="5.6" ry="6.0" fill="#E2E4E4"/>
<ellipse cx="448.5" cy="773.9" rx="5.6" ry="6.0" fill="#E2E4E4"/>
<ellipse cx="460.1" cy="772.1" rx="5.6" ry="6.0" fill="#E2E4E4"/>
<ellipse cx="463.6" cy="778.3" rx="5.6" ry="6.0" fill="#E2E4E4"/>
<ellipse cx="451.2" cy="784.5" rx="5.6" ry="6.0" fill="#E2E4E4"/>
<ellipse cx="461.8" cy="786.3" rx="5.6" ry="6.0" fill="#E2E4E4"/>
<ellipse cx="455.6" cy="789.9" rx="5.6" ry="6.0" fill="#E2E4E4"/>
<ellipse cx="450.3" cy="795.2" rx="5.6" ry="6.0" fill="#E2E4E4"/>
<ellipse cx="456.5" cy="797.0" rx="5.6" ry="6.0" fill="#E2E4E4"/>
<ellipse cx="464.5" cy="807.7" rx="5.6" ry="6.0" fill="#E2E4E4"/>
<ellipse cx="453.0" cy="804.1" rx="5.6" ry="6.0" fill="#E2E4E4"/>
<ellipse cx="453.9" cy="809.5" rx="5.6" ry="6.0" fill="#E2E4E4"/>
<ellipse cx="449.4" cy="823.7" rx="5.6" ry="6.0" fill="#E2E4E4"/>
<ellipse cx="460.1" cy="820.1" rx="5.6" ry="6.0" fill="#E2E4E4"/>
<ellipse cx="451.2" cy="830.8" rx="5.6" ry="6.0" fill="#E2E4E4"/>
<ellipse cx="462.7" cy="830.8" rx="5.6" ry="6.0" fill="#E2E4E4"/>
<ellipse cx="452.1" cy="837.9" rx="5.6" ry="6.0" fill="#E2E4E4"/>
<ellipse cx="463.6" cy="837.9" rx="5.6" ry="6.0" fill="#E2E4E4"/>
<ellipse cx="453.9" cy="845.1" rx="5.6" ry="6.0" fill="#E2E4E4"/>
<ellipse cx="462.7" cy="848.6" rx="5.6" ry="6.0" fill="#E2E4E4"/>
<ellipse cx="464.5" cy="852.2" rx="5.6" ry="6.0" fill="#E2E4E4"/>
<ellipse cx="451.2" cy="855.7" rx="5.6" ry="6.0" fill="#E2E4E4"/>
<ellipse cx="455.6" cy="859.3" rx="5.6" ry="6.0" fill="#E2E4E4"/>
<ellipse cx="451.2" cy="866.4" rx="5.6" ry="6.0" fill="#E2E4E4"/>
<ellipse cx="457.4" cy="871.8" rx="5.6" ry="6.0" fill="#E2E4E4"/>
<ellipse cx="454.8" cy="877.1" rx="5.6" ry="6.0" fill="#E2E4E4"/>
<ellipse cx="462.7" cy="884.2" rx="5.6" ry="6.0" fill="#E2E4E4"/>
<ellipse cx="453.0" cy="887.8" rx="5.6" ry="6.0" fill="#E2E4E4"/>
<ellipse cx="456.5" cy="898.5" rx="5.6" ry="6.0" fill="#E2E4E4"/>
<ellipse cx="462.7" cy="918.0" rx="5.6" ry="6.0" fill="#E2E4E4"/>
<ellipse cx="451.2" cy="931.4" rx="5.6" ry="6.0" fill="#E2E4E4"/>
<ellipse cx="458.3" cy="814.8" rx="5.6" ry="6.0" fill="#E2E4E4"/>
<ellipse cx="457.4" cy="827.3" rx="5.6" ry="6.0" fill="#E2E4E4"/>
<ellipse cx="456.5" cy="841.5" rx="5.6" ry="6.0" fill="#E2E4E4"/>
<ellipse cx="459.2" cy="775.7" rx="5.6" ry="6.0" fill="#E2E4E4"/>
<ellipse cx="456.5" cy="763.2" rx="5.6" ry="6.0" fill="#E2E4E4"/>
<ellipse cx="447.6" cy="781.0" rx="5.6" ry="6.0" fill="#E2E4E4"/>
<ellipse cx="448.5" cy="789.9" rx="5.6" ry="6.0" fill="#E2E4E4"/>
<ellipse cx="449.4" cy="813.0" rx="5.6" ry="6.0" fill="#E2E4E4"/>
<ellipse cx="447.6" cy="834.4" rx="5.6" ry="6.0" fill="#E2E4E4"/>
<ellipse cx="460.1" cy="802.3" rx="5.6" ry="6.0" fill="#E2E4E4"/>
<ellipse cx="461.0" cy="836.2" rx="5.6" ry="6.0" fill="#E2E4E4"/>
<ellipse cx="449.4" cy="846.8" rx="5.6" ry="6.0" fill="#E2E4E4"/>
<ellipse cx="458.3" cy="855.7" rx="5.6" ry="6.0" fill="#E2E4E4"/>
<ellipse cx="450.3" cy="873.5" rx="5.6" ry="6.0" fill="#E2E4E4"/>
<ellipse cx="453.9" cy="891.3" rx="5.6" ry="6.0" fill="#E2E4E4"/>
<ellipse cx="461.8" cy="759.6" rx="5.6" ry="6.0" fill="#E2E4E4"/>
<ellipse cx="451.2" cy="757.9" rx="5.6" ry="6.0" fill="#E2E4E4"/>
<ellipse cx="447.6" cy="798.8" rx="5.6" ry="6.0" fill="#E2E4E4"/>
<ellipse cx="463.6" cy="823.7" rx="5.6" ry="6.0" fill="#E2E4E4"/>
<ellipse cx="446.8" cy="816.6" rx="5.6" ry="6.0" fill="#E2E4E4"/>
<line x1="547.60" y1="786.40" x2="547.60" y2="705.28" stroke="#E2E4E4" stroke-width="3.2" />
<line x1="547.60" y1="848.07" x2="547.60" y2="924.18" stroke="#E2E4E4" stroke-width="3.2" />
<rect x="513.6" y="786.4" width="68.0" height="61.7" fill="none" stroke="#E2E4E4" stroke-width="3.6"/>
<line x1="513.60" y1="819.30" x2="581.60" y2="819.30" stroke="#E2E4E4" stroke-width="7.4" />
<ellipse cx="553.6" cy="704.2" rx="5.6" ry="6.0" fill="#E2E4E4"/>
<ellipse cx="553.1" cy="717.4" rx="5.6" ry="6.0" fill="#E2E4E4"/>
<ellipse cx="538.9" cy="718.4" rx="5.6" ry="6.0" fill="#E2E4E4"/>
<ellipse cx="556.6" cy="731.2" rx="5.6" ry="6.0" fill="#E2E4E4"/>
<ellipse cx="538.9" cy="730.7" rx="5.6" ry="6.0" fill="#E2E4E4"/>
<ellipse cx="540.9" cy="738.8" rx="5.6" ry="6.0" fill="#E2E4E4"/>
<ellipse cx="543.9" cy="743.9" rx="5.6" ry="6.0" fill="#E2E4E4"/>
<ellipse cx="539.9" cy="755.1" rx="5.6" ry="6.0" fill="#E2E4E4"/>
<ellipse cx="551.1" cy="754.1" rx="5.6" ry="6.0" fill="#E2E4E4"/>
<ellipse cx="554.1" cy="763.2" rx="5.6" ry="6.0" fill="#E2E4E4"/>
<ellipse cx="541.9" cy="763.2" rx="5.6" ry="6.0" fill="#E2E4E4"/>
<ellipse cx="538.9" cy="775.5" rx="5.6" ry="6.0" fill="#E2E4E4"/>
<ellipse cx="555.1" cy="775.5" rx="5.6" ry="6.0" fill="#E2E4E4"/>
<ellipse cx="547.0" cy="773.4" rx="5.6" ry="6.0" fill="#E2E4E4"/>
<ellipse cx="540.9" cy="787.7" rx="5.6" ry="6.0" fill="#E2E4E4"/>
<ellipse cx="553.1" cy="789.7" rx="5.6" ry="6.0" fill="#E2E4E4"/>
<ellipse cx="539.9" cy="798.8" rx="5.6" ry="6.0" fill="#E2E4E4"/>
<ellipse cx="554.1" cy="803.0" rx="5.6" ry="6.0" fill="#E2E4E4"/>
<ellipse cx="545.0" cy="813.1" rx="5.6" ry="6.0" fill="#E2E4E4"/>
<ellipse cx="555.1" cy="813.1" rx="5.6" ry="6.0" fill="#E2E4E4"/>
<ellipse cx="541.5" cy="868.1" rx="5.6" ry="6.0" fill="#E2E4E4"/>
<ellipse cx="540.4" cy="877.0" rx="5.6" ry="6.0" fill="#E2E4E4"/>
<ellipse cx="540.4" cy="885.8" rx="5.6" ry="6.0" fill="#E2E4E4"/>
<ellipse cx="553.6" cy="889.1" rx="5.6" ry="6.0" fill="#E2E4E4"/>
<ellipse cx="543.7" cy="896.8" rx="5.6" ry="6.0" fill="#E2E4E4"/>
<ellipse cx="549.2" cy="905.6" rx="5.6" ry="6.0" fill="#E2E4E4"/>
<ellipse cx="539.3" cy="915.6" rx="5.6" ry="6.0" fill="#E2E4E4"/>
<ellipse cx="542.1" cy="925.5" rx="5.6" ry="6.0" fill="#E2E4E4"/>
<ellipse cx="548.9" cy="956.5" rx="5.6" ry="6.0" fill="#E2E4E4"/>
<ellipse cx="545.6" cy="724.1" rx="5.6" ry="6.0" fill="#E2E4E4"/>
<ellipse cx="543.6" cy="734.2" rx="5.6" ry="6.0" fill="#E2E4E4"/>
<ellipse cx="545.6" cy="749.2" rx="5.6" ry="6.0" fill="#E2E4E4"/>
<ellipse cx="546.6" cy="759.2" rx="5.6" ry="6.0" fill="#E2E4E4"/>
<ellipse cx="547.6" cy="767.3" rx="5.6" ry="6.0" fill="#E2E4E4"/>
<ellipse cx="545.6" cy="781.3" rx="5.6" ry="6.0" fill="#E2E4E4"/>
<ellipse cx="546.6" cy="793.3" rx="5.6" ry="6.0" fill="#E2E4E4"/>
<ellipse cx="545.6" cy="805.4" rx="5.6" ry="6.0" fill="#E2E4E4"/>
<ellipse cx="541.6" cy="809.4" rx="5.6" ry="6.0" fill="#E2E4E4"/>
<ellipse cx="544.6" cy="713.1" rx="5.6" ry="6.0" fill="#E2E4E4"/>
<ellipse cx="543.6" cy="721.1" rx="5.6" ry="6.0" fill="#E2E4E4"/>
<ellipse cx="539.6" cy="725.1" rx="5.6" ry="6.0" fill="#E2E4E4"/>
<ellipse cx="542.6" cy="729.1" rx="5.6" ry="6.0" fill="#E2E4E4"/>
<ellipse cx="549.6" cy="725.1" rx="5.6" ry="6.0" fill="#E2E4E4"/>
<ellipse cx="550.6" cy="737.2" rx="5.6" ry="6.0" fill="#E2E4E4"/>
<ellipse cx="544.6" cy="740.2" rx="5.6" ry="6.0" fill="#E2E4E4"/>
<ellipse cx="538.6" cy="746.2" rx="5.6" ry="6.0" fill="#E2E4E4"/>
<ellipse cx="543.6" cy="751.2" rx="5.6" ry="6.0" fill="#E2E4E4"/>
<ellipse cx="548.6" cy="746.2" rx="5.6" ry="6.0" fill="#E2E4E4"/>
<ellipse cx="549.6" cy="759.2" rx="5.6" ry="6.0" fill="#E2E4E4"/>
<ellipse cx="539.6" cy="767.3" rx="5.6" ry="6.0" fill="#E2E4E4"/>
<ellipse cx="544.6" cy="771.3" rx="5.6" ry="6.0" fill="#E2E4E4"/>
<ellipse cx="550.6" cy="769.3" rx="5.6" ry="6.0" fill="#E2E4E4"/>
<ellipse cx="551.6" cy="781.3" rx="5.6" ry="6.0" fill="#E2E4E4"/>
<ellipse cx="539.6" cy="782.3" rx="5.6" ry="6.0" fill="#E2E4E4"/>
<ellipse cx="543.6" cy="787.3" rx="5.6" ry="6.0" fill="#E2E4E4"/>
<ellipse cx="547.6" cy="798.3" rx="5.6" ry="6.0" fill="#E2E4E4"/>
<ellipse cx="542.6" cy="803.4" rx="5.6" ry="6.0" fill="#E2E4E4"/>
<ellipse cx="550.6" cy="807.4" rx="5.6" ry="6.0" fill="#E2E4E4"/>
<ellipse cx="539.6" cy="811.4" rx="5.6" ry="6.0" fill="#E2E4E4"/>
<ellipse cx="545.6" cy="871.5" rx="5.6" ry="6.0" fill="#E2E4E4"/>
<ellipse cx="544.6" cy="880.6" rx="5.6" ry="6.0" fill="#E2E4E4"/>
<ellipse cx="546.6" cy="893.6" rx="5.6" ry="6.0" fill="#E2E4E4"/>
<ellipse cx="542.6" cy="863.5" rx="5.6" ry="6.0" fill="#E2E4E4"/>
<ellipse cx="541.2" cy="807.4" rx="5.6" ry="6.0" fill="#E2E4E4"/>
<ellipse cx="545.2" cy="807.4" rx="5.6" ry="6.0" fill="#E2E4E4"/>
<ellipse cx="549.2" cy="807.4" rx="5.6" ry="6.0" fill="#E2E4E4"/>
<ellipse cx="553.2" cy="807.4" rx="5.6" ry="6.0" fill="#E2E4E4"/>
<ellipse cx="555.0" cy="807.4" rx="5.6" ry="6.0" fill="#E2E4E4"/>
<ellipse cx="541.2" cy="813.4" rx="5.6" ry="6.0" fill="#E2E4E4"/>
<ellipse cx="545.2" cy="813.4" rx="5.6" ry="6.0" fill="#E2E4E4"/>
<ellipse cx="549.2" cy="813.4" rx="5.6" ry="6.0" fill="#E2E4E4"/>
<ellipse cx="553.2" cy="813.4" rx="5.6" ry="6.0" fill="#E2E4E4"/>
<ellipse cx="555.0" cy="813.4" rx="5.6" ry="6.0" fill="#E2E4E4"/>
<ellipse cx="542.2" cy="819.4" rx="5.6" ry="6.0" fill="#E2E4E4"/>
<ellipse cx="546.2" cy="819.4" rx="5.6" ry="6.0" fill="#E2E4E4"/>
<ellipse cx="550.2" cy="819.4" rx="5.6" ry="6.0" fill="#E2E4E4"/>
<ellipse cx="554.2" cy="819.4" rx="5.6" ry="6.0" fill="#E2E4E4"/>
<ellipse cx="555.0" cy="819.4" rx="5.6" ry="6.0" fill="#E2E4E4"/>
<ellipse cx="541.2" cy="825.4" rx="5.6" ry="6.0" fill="#E2E4E4"/>
<ellipse cx="545.2" cy="825.4" rx="5.6" ry="6.0" fill="#E2E4E4"/>
<ellipse cx="549.2" cy="825.4" rx="5.6" ry="6.0" fill="#E2E4E4"/>
<ellipse cx="553.2" cy="825.4" rx="5.6" ry="6.0" fill="#E2E4E4"/>
<ellipse cx="556.0" cy="825.4" rx="5.6" ry="6.0" fill="#E2E4E4"/>
<ellipse cx="542.2" cy="831.4" rx="5.6" ry="6.0" fill="#E2E4E4"/>
<ellipse cx="546.2" cy="831.4" rx="5.6" ry="6.0" fill="#E2E4E4"/>
<ellipse cx="550.2" cy="831.4" rx="5.6" ry="6.0" fill="#E2E4E4"/>
<ellipse cx="554.2" cy="831.4" rx="5.6" ry="6.0" fill="#E2E4E4"/>
<ellipse cx="555.0" cy="831.4" rx="5.6" ry="6.0" fill="#E2E4E4"/>
<ellipse cx="541.2" cy="837.4" rx="5.6" ry="6.0" fill="#E2E4E4"/>
<ellipse cx="545.2" cy="837.4" rx="5.6" ry="6.0" fill="#E2E4E4"/>
<ellipse cx="549.2" cy="837.4" rx="5.6" ry="6.0" fill="#E2E4E4"/>
<ellipse cx="553.2" cy="837.4" rx="5.6" ry="6.0" fill="#E2E4E4"/>
<ellipse cx="555.0" cy="837.4" rx="5.6" ry="6.0" fill="#E2E4E4"/>
<ellipse cx="542.2" cy="843.5" rx="5.6" ry="6.0" fill="#E2E4E4"/>
<ellipse cx="546.2" cy="843.5" rx="5.6" ry="6.0" fill="#E2E4E4"/>
<ellipse cx="550.2" cy="843.5" rx="5.6" ry="6.0" fill="#E2E4E4"/>
<ellipse cx="554.2" cy="843.5" rx="5.6" ry="6.0" fill="#E2E4E4"/>
<ellipse cx="556.0" cy="843.5" rx="5.6" ry="6.0" fill="#E2E4E4"/>
<ellipse cx="541.2" cy="849.5" rx="5.6" ry="6.0" fill="#E2E4E4"/>
<ellipse cx="545.2" cy="849.5" rx="5.6" ry="6.0" fill="#E2E4E4"/>
<ellipse cx="549.2" cy="849.5" rx="5.6" ry="6.0" fill="#E2E4E4"/>
<ellipse cx="553.2" cy="849.5" rx="5.6" ry="6.0" fill="#E2E4E4"/>
<ellipse cx="555.0" cy="849.5" rx="5.6" ry="6.0" fill="#E2E4E4"/>
<ellipse cx="542.2" cy="855.5" rx="5.6" ry="6.0" fill="#E2E4E4"/>
<ellipse cx="546.2" cy="855.5" rx="5.6" ry="6.0" fill="#E2E4E4"/>
<ellipse cx="550.2" cy="855.5" rx="5.6" ry="6.0" fill="#E2E4E4"/>
<ellipse cx="554.0" cy="855.5" rx="5.6" ry="6.0" fill="#E2E4E4"/>
<ellipse cx="543.2" cy="861.5" rx="5.6" ry="6.0" fill="#E2E4E4"/>
<ellipse cx="547.2" cy="861.5" rx="5.6" ry="6.0" fill="#E2E4E4"/>
<ellipse cx="551.2" cy="861.5" rx="5.6" ry="6.0" fill="#E2E4E4"/>
<ellipse cx="552.0" cy="861.5" rx="5.6" ry="6.0" fill="#E2E4E4"/>
<rect x="222.2" y="692.3" width="380.4" height="276.3" fill="none" stroke="#333333" stroke-width="1.9"/>
<line x1="215.90" y1="712.10" x2="222.20" y2="712.10" stroke="#333333" stroke-width="3.4" />
<text x="186.40" y="720.70" font-size="27" fill="#474747">2</text>
<line x1="215.90" y1="762.90" x2="222.20" y2="762.90" stroke="#333333" stroke-width="3.4" />
<text x="186.40" y="771.50" font-size="27" fill="#474747">1</text>
<line x1="215.90" y1="813.90" x2="222.20" y2="813.90" stroke="#333333" stroke-width="3.4" />
<text x="186.40" y="822.50" font-size="27" fill="#474747">0</text>
<line x1="215.90" y1="864.60" x2="222.20" y2="864.60" stroke="#333333" stroke-width="3.4" />
<text x="171.40" y="873.20" font-size="27" fill="#474747">−1</text>
<line x1="215.90" y1="915.40" x2="222.20" y2="915.40" stroke="#333333" stroke-width="3.4" />
<text x="171.40" y="924.00" font-size="27" fill="#474747">−2</text>
<line x1="215.90" y1="966.10" x2="222.20" y2="966.10" stroke="#333333" stroke-width="3.4" />
<text x="170.40" y="974.70" font-size="27" fill="#474747">−3</text>
<line x1="276.40" y1="968.60" x2="276.40" y2="975.80" stroke="#333333" stroke-width="3.6" />
<line x1="367.00" y1="968.60" x2="367.00" y2="975.80" stroke="#333333" stroke-width="3.6" />
<line x1="457.20" y1="968.60" x2="457.20" y2="975.80" stroke="#333333" stroke-width="3.6" />
<line x1="547.60" y1="968.60" x2="547.60" y2="975.80" stroke="#333333" stroke-width="3.6" />
<text x="243.30" y="1015.30" font-size="27" fill="#474747">[1, 1]</text>
<text x="337.10" y="1015.30" font-size="27" fill="#474747">[1, 0]</text>
<text x="427.90" y="1015.30" font-size="27" fill="#474747">[0, 1]</text>
<text x="518.00" y="1015.30" font-size="27" fill="#474747">[0, 0]</text>
<text transform="translate(142.90,867.20) rotate(-90)" font-size="27" fill="#111111">signal</text>
<text x="206.40" y="1085.40" font-size="27" fill="#111111">Direct post-hoc BF</text>
<text x="492.60" y="1085.40" font-size="27" fill="#111111">3.1</text>
<text x="302.20" y="1116.70" font-size="27" fill="#111111">Tukey Test</text>
<text x="477.40" y="1116.70" font-size="27" fill="#111111">0.033</text>
<text x="730.90" y="616.50" font-size="38" fill="#111111">d</text>
<text x="1154.40" y="647.90" font-size="27" fill="#111111">Indirect post-hoc analysis</text>
<line x1="832.90" y1="670.30" x2="1816.00" y2="670.30" stroke="#222" stroke-width="1.7" />
<rect x="844.5" y="689.7" width="380.3" height="276.1" fill="#fff"/>
<line x1="844.50" y1="961.60" x2="1224.80" y2="961.60" stroke="#E8E8E8" stroke-width="3.2" />
<line x1="898.60" y1="895.72" x2="898.60" y2="883.68" stroke="#333333" stroke-width="3.2" />
<line x1="898.60" y1="928.01" x2="898.60" y2="944.95" stroke="#333333" stroke-width="3.2" />
<rect x="864.6" y="895.7" width="68.0" height="32.3" fill="none" stroke="#333333" stroke-width="3.6"/>
<line x1="864.59" y1="900.33" x2="932.61" y2="900.33" stroke="#333333" stroke-width="7.4" />
<ellipse cx="893.6" cy="883.4" rx="5.3" ry="5.7" fill="#E8232A" stroke="#d41c22" stroke-width="0.7"/>
<ellipse cx="901.7" cy="896.5" rx="5.3" ry="5.7" fill="#E8232A" stroke="#d41c22" stroke-width="0.7"/>
<ellipse cx="890.9" cy="901.0" rx="5.3" ry="5.7" fill="#E8232A" stroke="#d41c22" stroke-width="0.7"/>
<ellipse cx="892.5" cy="928.5" rx="5.3" ry="5.7" fill="#E8232A" stroke="#d41c22" stroke-width="0.7"/>
<ellipse cx="893.3" cy="946.3" rx="5.3" ry="5.7" fill="#E8232A" stroke="#d41c22" stroke-width="0.7"/>
<line x1="988.90" y1="817.50" x2="988.90" y2="788.52" stroke="#333333" stroke-width="3.2" />
<line x1="988.90" y1="872.65" x2="988.90" y2="935.23" stroke="#333333" stroke-width="3.2" />
<rect x="954.9" y="817.5" width="68.0" height="55.2" fill="none" stroke="#333333" stroke-width="3.6"/>
<line x1="954.89" y1="850.59" x2="1022.91" y2="850.59" stroke="#333333" stroke-width="7.4" />
<ellipse cx="990.0" cy="787.7" rx="5.3" ry="5.7" fill="#7D50A8" stroke="#6c4396" stroke-width="0.7"/>
<ellipse cx="995.9" cy="800.7" rx="5.3" ry="5.7" fill="#7D50A8" stroke="#6c4396" stroke-width="0.7"/>
<ellipse cx="992.7" cy="814.0" rx="5.3" ry="5.7" fill="#7D50A8" stroke="#6c4396" stroke-width="0.7"/>
<ellipse cx="993.0" cy="828.8" rx="5.3" ry="5.7" fill="#7D50A8" stroke="#6c4396" stroke-width="0.7"/>
<ellipse cx="980.2" cy="833.6" rx="5.3" ry="5.7" fill="#7D50A8" stroke="#6c4396" stroke-width="0.7"/>
<ellipse cx="983.1" cy="865.1" rx="5.3" ry="5.7" fill="#7D50A8" stroke="#6c4396" stroke-width="0.7"/>
<ellipse cx="993.8" cy="873.2" rx="5.3" ry="5.7" fill="#7D50A8" stroke="#6c4396" stroke-width="0.7"/>
<ellipse cx="989.8" cy="870.7" rx="5.3" ry="5.7" fill="#7D50A8" stroke="#6c4396" stroke-width="0.7"/>
<ellipse cx="994.6" cy="901.4" rx="5.3" ry="5.7" fill="#7D50A8" stroke="#6c4396" stroke-width="0.7"/>
<ellipse cx="993.0" cy="935.2" rx="5.3" ry="5.7" fill="#7D50A8" stroke="#6c4396" stroke-width="0.7"/>
<line x1="1079.40" y1="785.11" x2="1079.40" y2="745.50" stroke="#333333" stroke-width="3.2" />
<line x1="1079.40" y1="852.20" x2="1079.40" y2="926.80" stroke="#333333" stroke-width="3.2" />
<rect x="1045.4" y="785.1" width="68.0" height="67.1" fill="none" stroke="#333333" stroke-width="3.6"/>
<line x1="1045.39" y1="817.30" x2="1113.41" y2="817.30" stroke="#333333" stroke-width="7.4" />
<ellipse cx="1076.1" cy="747.9" rx="5.3" ry="5.7" fill="#23914A" stroke="#1c7a3c" stroke-width="0.7"/>
<ellipse cx="1084.1" cy="749.7" rx="5.3" ry="5.7" fill="#23914A" stroke="#1c7a3c" stroke-width="0.7"/>
<ellipse cx="1085.8" cy="754.2" rx="5.3" ry="5.7" fill="#23914A" stroke="#1c7a3c" stroke-width="0.7"/>
<ellipse cx="1071.6" cy="763.1" rx="5.3" ry="5.7" fill="#23914A" stroke="#1c7a3c" stroke-width="0.7"/>
<ellipse cx="1070.7" cy="770.2" rx="5.3" ry="5.7" fill="#23914A" stroke="#1c7a3c" stroke-width="0.7"/>
<ellipse cx="1082.3" cy="768.4" rx="5.3" ry="5.7" fill="#23914A" stroke="#1c7a3c" stroke-width="0.7"/>
<ellipse cx="1085.8" cy="774.6" rx="5.3" ry="5.7" fill="#23914A" stroke="#1c7a3c" stroke-width="0.7"/>
<ellipse cx="1073.4" cy="780.8" rx="5.3" ry="5.7" fill="#23914A" stroke="#1c7a3c" stroke-width="0.7"/>
<ellipse cx="1084.1" cy="782.6" rx="5.3" ry="5.7" fill="#23914A" stroke="#1c7a3c" stroke-width="0.7"/>
<ellipse cx="1077.8" cy="786.2" rx="5.3" ry="5.7" fill="#23914A" stroke="#1c7a3c" stroke-width="0.7"/>
<ellipse cx="1072.5" cy="791.5" rx="5.3" ry="5.7" fill="#23914A" stroke="#1c7a3c" stroke-width="0.7"/>
<ellipse cx="1078.7" cy="793.3" rx="5.3" ry="5.7" fill="#23914A" stroke="#1c7a3c" stroke-width="0.7"/>
<ellipse cx="1086.7" cy="804.0" rx="5.3" ry="5.7" fill="#23914A" stroke="#1c7a3c" stroke-width="0.7"/>
<ellipse cx="1075.2" cy="800.4" rx="5.3" ry="5.7" fill="#23914A" stroke="#1c7a3c" stroke-width="0.7"/>
<ellipse cx="1076.1" cy="805.8" rx="5.3" ry="5.7" fill="#23914A" stroke="#1c7a3c" stroke-width="0.7"/>
<ellipse cx="1071.6" cy="820.0" rx="5.3" ry="5.7" fill="#23914A" stroke="#1c7a3c" stroke-width="0.7"/>
<ellipse cx="1082.3" cy="816.4" rx="5.3" ry="5.7" fill="#23914A" stroke="#1c7a3c" stroke-width="0.7"/>
<ellipse cx="1073.4" cy="827.1" rx="5.3" ry="5.7" fill="#23914A" stroke="#1c7a3c" stroke-width="0.7"/>
<ellipse cx="1084.9" cy="827.1" rx="5.3" ry="5.7" fill="#23914A" stroke="#1c7a3c" stroke-width="0.7"/>
<ellipse cx="1074.3" cy="834.2" rx="5.3" ry="5.7" fill="#23914A" stroke="#1c7a3c" stroke-width="0.7"/>
<ellipse cx="1085.8" cy="834.2" rx="5.3" ry="5.7" fill="#23914A" stroke="#1c7a3c" stroke-width="0.7"/>
<ellipse cx="1076.1" cy="841.4" rx="5.3" ry="5.7" fill="#23914A" stroke="#1c7a3c" stroke-width="0.7"/>
<ellipse cx="1084.9" cy="844.9" rx="5.3" ry="5.7" fill="#23914A" stroke="#1c7a3c" stroke-width="0.7"/>
<ellipse cx="1086.7" cy="848.5" rx="5.3" ry="5.7" fill="#23914A" stroke="#1c7a3c" stroke-width="0.7"/>
<ellipse cx="1073.4" cy="852.0" rx="5.3" ry="5.7" fill="#23914A" stroke="#1c7a3c" stroke-width="0.7"/>
<ellipse cx="1077.8" cy="855.6" rx="5.3" ry="5.7" fill="#23914A" stroke="#1c7a3c" stroke-width="0.7"/>
<ellipse cx="1073.4" cy="862.7" rx="5.3" ry="5.7" fill="#23914A" stroke="#1c7a3c" stroke-width="0.7"/>
<ellipse cx="1079.6" cy="868.1" rx="5.3" ry="5.7" fill="#23914A" stroke="#1c7a3c" stroke-width="0.7"/>
<ellipse cx="1076.9" cy="873.4" rx="5.3" ry="5.7" fill="#23914A" stroke="#1c7a3c" stroke-width="0.7"/>
<ellipse cx="1084.9" cy="880.5" rx="5.3" ry="5.7" fill="#23914A" stroke="#1c7a3c" stroke-width="0.7"/>
<ellipse cx="1075.2" cy="884.1" rx="5.3" ry="5.7" fill="#23914A" stroke="#1c7a3c" stroke-width="0.7"/>
<ellipse cx="1078.7" cy="894.8" rx="5.3" ry="5.7" fill="#23914A" stroke="#1c7a3c" stroke-width="0.7"/>
<ellipse cx="1084.9" cy="914.3" rx="5.3" ry="5.7" fill="#23914A" stroke="#1c7a3c" stroke-width="0.7"/>
<ellipse cx="1073.4" cy="927.7" rx="5.3" ry="5.7" fill="#23914A" stroke="#1c7a3c" stroke-width="0.7"/>
<ellipse cx="1080.5" cy="811.1" rx="5.3" ry="5.7" fill="#23914A" stroke="#1c7a3c" stroke-width="0.7"/>
<ellipse cx="1079.6" cy="823.6" rx="5.3" ry="5.7" fill="#23914A" stroke="#1c7a3c" stroke-width="0.7"/>
<ellipse cx="1078.7" cy="837.8" rx="5.3" ry="5.7" fill="#23914A" stroke="#1c7a3c" stroke-width="0.7"/>
<ellipse cx="1081.4" cy="772.0" rx="5.3" ry="5.7" fill="#23914A" stroke="#1c7a3c" stroke-width="0.7"/>
<ellipse cx="1078.7" cy="759.5" rx="5.3" ry="5.7" fill="#23914A" stroke="#1c7a3c" stroke-width="0.7"/>
<ellipse cx="1069.8" cy="777.3" rx="5.3" ry="5.7" fill="#23914A" stroke="#1c7a3c" stroke-width="0.7"/>
<ellipse cx="1070.7" cy="786.2" rx="5.3" ry="5.7" fill="#23914A" stroke="#1c7a3c" stroke-width="0.7"/>
<ellipse cx="1071.6" cy="809.3" rx="5.3" ry="5.7" fill="#23914A" stroke="#1c7a3c" stroke-width="0.7"/>
<ellipse cx="1069.8" cy="830.7" rx="5.3" ry="5.7" fill="#23914A" stroke="#1c7a3c" stroke-width="0.7"/>
<ellipse cx="1082.3" cy="798.6" rx="5.3" ry="5.7" fill="#23914A" stroke="#1c7a3c" stroke-width="0.7"/>
<ellipse cx="1083.2" cy="832.5" rx="5.3" ry="5.7" fill="#23914A" stroke="#1c7a3c" stroke-width="0.7"/>
<ellipse cx="1071.6" cy="843.1" rx="5.3" ry="5.7" fill="#23914A" stroke="#1c7a3c" stroke-width="0.7"/>
<ellipse cx="1080.5" cy="852.0" rx="5.3" ry="5.7" fill="#23914A" stroke="#1c7a3c" stroke-width="0.7"/>
<ellipse cx="1072.5" cy="869.8" rx="5.3" ry="5.7" fill="#23914A" stroke="#1c7a3c" stroke-width="0.7"/>
<ellipse cx="1076.1" cy="887.6" rx="5.3" ry="5.7" fill="#23914A" stroke="#1c7a3c" stroke-width="0.7"/>
<ellipse cx="1084.1" cy="755.9" rx="5.3" ry="5.7" fill="#23914A" stroke="#1c7a3c" stroke-width="0.7"/>
<ellipse cx="1073.4" cy="754.2" rx="5.3" ry="5.7" fill="#23914A" stroke="#1c7a3c" stroke-width="0.7"/>
<ellipse cx="1069.8" cy="795.1" rx="5.3" ry="5.7" fill="#23914A" stroke="#1c7a3c" stroke-width="0.7"/>
<ellipse cx="1085.8" cy="820.0" rx="5.3" ry="5.7" fill="#23914A" stroke="#1c7a3c" stroke-width="0.7"/>
<ellipse cx="1069.0" cy="812.9" rx="5.3" ry="5.7" fill="#23914A" stroke="#1c7a3c" stroke-width="0.7"/>
<line x1="1169.90" y1="782.70" x2="1169.90" y2="701.58" stroke="#333333" stroke-width="3.2" />
<line x1="1169.90" y1="844.37" x2="1169.90" y2="920.48" stroke="#333333" stroke-width="3.2" />
<rect x="1135.9" y="782.7" width="68.0" height="61.7" fill="none" stroke="#333333" stroke-width="3.6"/>
<line x1="1135.89" y1="815.60" x2="1203.91" y2="815.60" stroke="#333333" stroke-width="7.4" />
<ellipse cx="1175.9" cy="700.5" rx="5.6" ry="6.0" fill="#050505"/>
<ellipse cx="1175.4" cy="713.7" rx="5.6" ry="6.0" fill="#050505"/>
<ellipse cx="1161.2" cy="714.7" rx="5.6" ry="6.0" fill="#050505"/>
<ellipse cx="1178.9" cy="727.5" rx="5.6" ry="6.0" fill="#050505"/>
<ellipse cx="1161.2" cy="727.0" rx="5.6" ry="6.0" fill="#050505"/>
<ellipse cx="1163.2" cy="735.1" rx="5.6" ry="6.0" fill="#050505"/>
<ellipse cx="1166.2" cy="740.2" rx="5.6" ry="6.0" fill="#050505"/>
<ellipse cx="1162.2" cy="751.4" rx="5.6" ry="6.0" fill="#050505"/>
<ellipse cx="1173.4" cy="750.4" rx="5.6" ry="6.0" fill="#050505"/>
<ellipse cx="1176.4" cy="759.5" rx="5.6" ry="6.0" fill="#050505"/>
<ellipse cx="1164.2" cy="759.5" rx="5.6" ry="6.0" fill="#050505"/>
<ellipse cx="1161.2" cy="771.8" rx="5.6" ry="6.0" fill="#050505"/>
<ellipse cx="1177.4" cy="771.8" rx="5.6" ry="6.0" fill="#050505"/>
<ellipse cx="1169.3" cy="769.7" rx="5.6" ry="6.0" fill="#050505"/>
<ellipse cx="1163.2" cy="784.0" rx="5.6" ry="6.0" fill="#050505"/>
<ellipse cx="1175.4" cy="786.0" rx="5.6" ry="6.0" fill="#050505"/>
<ellipse cx="1162.2" cy="795.1" rx="5.6" ry="6.0" fill="#050505"/>
<ellipse cx="1176.4" cy="799.3" rx="5.6" ry="6.0" fill="#050505"/>
<ellipse cx="1167.3" cy="809.4" rx="5.6" ry="6.0" fill="#050505"/>
<ellipse cx="1177.4" cy="809.4" rx="5.6" ry="6.0" fill="#050505"/>
<ellipse cx="1163.8" cy="864.4" rx="5.6" ry="6.0" fill="#050505"/>
<ellipse cx="1162.7" cy="873.3" rx="5.6" ry="6.0" fill="#050505"/>
<ellipse cx="1162.7" cy="882.1" rx="5.6" ry="6.0" fill="#050505"/>
<ellipse cx="1175.9" cy="885.4" rx="5.6" ry="6.0" fill="#050505"/>
<ellipse cx="1166.0" cy="893.1" rx="5.6" ry="6.0" fill="#050505"/>
<ellipse cx="1171.5" cy="901.9" rx="5.6" ry="6.0" fill="#050505"/>
<ellipse cx="1161.6" cy="911.9" rx="5.6" ry="6.0" fill="#050505"/>
<ellipse cx="1164.4" cy="921.8" rx="5.6" ry="6.0" fill="#050505"/>
<ellipse cx="1171.2" cy="952.8" rx="5.6" ry="6.0" fill="#050505"/>
<ellipse cx="1167.9" cy="720.4" rx="5.6" ry="6.0" fill="#050505"/>
<ellipse cx="1165.9" cy="730.5" rx="5.6" ry="6.0" fill="#050505"/>
<ellipse cx="1167.9" cy="745.5" rx="5.6" ry="6.0" fill="#050505"/>
<ellipse cx="1168.9" cy="755.5" rx="5.6" ry="6.0" fill="#050505"/>
<ellipse cx="1169.9" cy="763.6" rx="5.6" ry="6.0" fill="#050505"/>
<ellipse cx="1167.9" cy="777.6" rx="5.6" ry="6.0" fill="#050505"/>
<ellipse cx="1168.9" cy="789.6" rx="5.6" ry="6.0" fill="#050505"/>
<ellipse cx="1167.9" cy="801.7" rx="5.6" ry="6.0" fill="#050505"/>
<ellipse cx="1163.9" cy="805.7" rx="5.6" ry="6.0" fill="#050505"/>
<ellipse cx="1166.9" cy="709.4" rx="5.6" ry="6.0" fill="#050505"/>
<ellipse cx="1165.9" cy="717.4" rx="5.6" ry="6.0" fill="#050505"/>
<ellipse cx="1161.9" cy="721.4" rx="5.6" ry="6.0" fill="#050505"/>
<ellipse cx="1164.9" cy="725.4" rx="5.6" ry="6.0" fill="#050505"/>
<ellipse cx="1171.9" cy="721.4" rx="5.6" ry="6.0" fill="#050505"/>
<ellipse cx="1172.9" cy="733.5" rx="5.6" ry="6.0" fill="#050505"/>
<ellipse cx="1166.9" cy="736.5" rx="5.6" ry="6.0" fill="#050505"/>
<ellipse cx="1160.9" cy="742.5" rx="5.6" ry="6.0" fill="#050505"/>
<ellipse cx="1165.9" cy="747.5" rx="5.6" ry="6.0" fill="#050505"/>
<ellipse cx="1170.9" cy="742.5" rx="5.6" ry="6.0" fill="#050505"/>
<ellipse cx="1171.9" cy="755.5" rx="5.6" ry="6.0" fill="#050505"/>
<ellipse cx="1161.9" cy="763.6" rx="5.6" ry="6.0" fill="#050505"/>
<ellipse cx="1166.9" cy="767.6" rx="5.6" ry="6.0" fill="#050505"/>
<ellipse cx="1172.9" cy="765.6" rx="5.6" ry="6.0" fill="#050505"/>
<ellipse cx="1173.9" cy="777.6" rx="5.6" ry="6.0" fill="#050505"/>
<ellipse cx="1161.9" cy="778.6" rx="5.6" ry="6.0" fill="#050505"/>
<ellipse cx="1165.9" cy="783.6" rx="5.6" ry="6.0" fill="#050505"/>
<ellipse cx="1169.9" cy="794.6" rx="5.6" ry="6.0" fill="#050505"/>
<ellipse cx="1164.9" cy="799.7" rx="5.6" ry="6.0" fill="#050505"/>
<ellipse cx="1172.9" cy="803.7" rx="5.6" ry="6.0" fill="#050505"/>
<ellipse cx="1161.9" cy="807.7" rx="5.6" ry="6.0" fill="#050505"/>
<ellipse cx="1167.9" cy="867.8" rx="5.6" ry="6.0" fill="#050505"/>
<ellipse cx="1166.9" cy="876.9" rx="5.6" ry="6.0" fill="#050505"/>
<ellipse cx="1168.9" cy="889.9" rx="5.6" ry="6.0" fill="#050505"/>
<ellipse cx="1164.9" cy="859.8" rx="5.6" ry="6.0" fill="#050505"/>
<ellipse cx="1163.5" cy="803.7" rx="5.6" ry="6.0" fill="#050505"/>
<ellipse cx="1167.5" cy="803.7" rx="5.6" ry="6.0" fill="#050505"/>
<ellipse cx="1171.5" cy="803.7" rx="5.6" ry="6.0" fill="#050505"/>
<ellipse cx="1175.5" cy="803.7" rx="5.6" ry="6.0" fill="#050505"/>
<ellipse cx="1177.3" cy="803.7" rx="5.6" ry="6.0" fill="#050505"/>
<ellipse cx="1163.5" cy="809.7" rx="5.6" ry="6.0" fill="#050505"/>
<ellipse cx="1167.5" cy="809.7" rx="5.6" ry="6.0" fill="#050505"/>
<ellipse cx="1171.5" cy="809.7" rx="5.6" ry="6.0" fill="#050505"/>
<ellipse cx="1175.5" cy="809.7" rx="5.6" ry="6.0" fill="#050505"/>
<ellipse cx="1177.3" cy="809.7" rx="5.6" ry="6.0" fill="#050505"/>
<ellipse cx="1164.5" cy="815.7" rx="5.6" ry="6.0" fill="#050505"/>
<ellipse cx="1168.5" cy="815.7" rx="5.6" ry="6.0" fill="#050505"/>
<ellipse cx="1172.5" cy="815.7" rx="5.6" ry="6.0" fill="#050505"/>
<ellipse cx="1176.5" cy="815.7" rx="5.6" ry="6.0" fill="#050505"/>
<ellipse cx="1177.3" cy="815.7" rx="5.6" ry="6.0" fill="#050505"/>
<ellipse cx="1163.5" cy="821.7" rx="5.6" ry="6.0" fill="#050505"/>
<ellipse cx="1167.5" cy="821.7" rx="5.6" ry="6.0" fill="#050505"/>
<ellipse cx="1171.5" cy="821.7" rx="5.6" ry="6.0" fill="#050505"/>
<ellipse cx="1175.5" cy="821.7" rx="5.6" ry="6.0" fill="#050505"/>
<ellipse cx="1178.3" cy="821.7" rx="5.6" ry="6.0" fill="#050505"/>
<ellipse cx="1164.5" cy="827.7" rx="5.6" ry="6.0" fill="#050505"/>
<ellipse cx="1168.5" cy="827.7" rx="5.6" ry="6.0" fill="#050505"/>
<ellipse cx="1172.5" cy="827.7" rx="5.6" ry="6.0" fill="#050505"/>
<ellipse cx="1176.5" cy="827.7" rx="5.6" ry="6.0" fill="#050505"/>
<ellipse cx="1177.3" cy="827.7" rx="5.6" ry="6.0" fill="#050505"/>
<ellipse cx="1163.5" cy="833.7" rx="5.6" ry="6.0" fill="#050505"/>
<ellipse cx="1167.5" cy="833.7" rx="5.6" ry="6.0" fill="#050505"/>
<ellipse cx="1171.5" cy="833.7" rx="5.6" ry="6.0" fill="#050505"/>
<ellipse cx="1175.5" cy="833.7" rx="5.6" ry="6.0" fill="#050505"/>
<ellipse cx="1177.3" cy="833.7" rx="5.6" ry="6.0" fill="#050505"/>
<ellipse cx="1164.5" cy="839.8" rx="5.6" ry="6.0" fill="#050505"/>
<ellipse cx="1168.5" cy="839.8" rx="5.6" ry="6.0" fill="#050505"/>
<ellipse cx="1172.5" cy="839.8" rx="5.6" ry="6.0" fill="#050505"/>
<ellipse cx="1176.5" cy="839.8" rx="5.6" ry="6.0" fill="#050505"/>
<ellipse cx="1178.3" cy="839.8" rx="5.6" ry="6.0" fill="#050505"/>
<ellipse cx="1163.5" cy="845.8" rx="5.6" ry="6.0" fill="#050505"/>
<ellipse cx="1167.5" cy="845.8" rx="5.6" ry="6.0" fill="#050505"/>
<ellipse cx="1171.5" cy="845.8" rx="5.6" ry="6.0" fill="#050505"/>
<ellipse cx="1175.5" cy="845.8" rx="5.6" ry="6.0" fill="#050505"/>
<ellipse cx="1177.3" cy="845.8" rx="5.6" ry="6.0" fill="#050505"/>
<ellipse cx="1164.5" cy="851.8" rx="5.6" ry="6.0" fill="#050505"/>
<ellipse cx="1168.5" cy="851.8" rx="5.6" ry="6.0" fill="#050505"/>
<ellipse cx="1172.5" cy="851.8" rx="5.6" ry="6.0" fill="#050505"/>
<ellipse cx="1176.3" cy="851.8" rx="5.6" ry="6.0" fill="#050505"/>
<ellipse cx="1165.5" cy="857.8" rx="5.6" ry="6.0" fill="#050505"/>
<ellipse cx="1169.5" cy="857.8" rx="5.6" ry="6.0" fill="#050505"/>
<ellipse cx="1173.5" cy="857.8" rx="5.6" ry="6.0" fill="#050505"/>
<ellipse cx="1174.3" cy="857.8" rx="5.6" ry="6.0" fill="#050505"/>
<rect x="844.5" y="689.7" width="380.3" height="276.1" fill="none" stroke="#333333" stroke-width="1.9"/>
<line x1="838.20" y1="708.40" x2="844.50" y2="708.40" stroke="#333333" stroke-width="3.4" />
<text x="814.00" y="717.40" font-size="27" fill="#474747">2</text>
<line x1="838.20" y1="759.20" x2="844.50" y2="759.20" stroke="#333333" stroke-width="3.4" />
<text x="814.00" y="768.20" font-size="27" fill="#474747">1</text>
<line x1="838.20" y1="810.00" x2="844.50" y2="810.00" stroke="#333333" stroke-width="3.4" />
<text x="814.00" y="819.00" font-size="27" fill="#474747">0</text>
<line x1="838.20" y1="860.80" x2="844.50" y2="860.80" stroke="#333333" stroke-width="3.4" />
<text x="799.00" y="869.80" font-size="27" fill="#474747">−1</text>
<line x1="838.20" y1="911.60" x2="844.50" y2="911.60" stroke="#333333" stroke-width="3.4" />
<text x="799.00" y="920.60" font-size="27" fill="#474747">−2</text>
<line x1="838.20" y1="962.40" x2="844.50" y2="962.40" stroke="#333333" stroke-width="3.4" />
<text x="798.00" y="971.40" font-size="27" fill="#474747">−3</text>
<line x1="898.60" y1="965.80" x2="898.60" y2="973.00" stroke="#333333" stroke-width="3.6" />
<line x1="988.90" y1="965.80" x2="988.90" y2="973.00" stroke="#333333" stroke-width="3.6" />
<line x1="1079.40" y1="965.80" x2="1079.40" y2="973.00" stroke="#333333" stroke-width="3.6" />
<line x1="1169.90" y1="965.80" x2="1169.90" y2="973.00" stroke="#333333" stroke-width="3.6" />
<text x="865.60" y="1014.30" font-size="27" fill="#474747">[1, 1]</text>
<text x="959.70" y="1014.30" font-size="27" fill="#474747">[1, 0]</text>
<text x="1050.90" y="1014.30" font-size="27" fill="#474747">[0, 1]</text>
<text x="1140.90" y="1014.30" font-size="27" fill="#474747">[0, 0]</text>
<text transform="translate(776.20,864.60) rotate(-90)" font-size="27" fill="#111111">signal</text>
<rect x="1430.8" y="692.7" width="385.2" height="283.5" fill="#fff"/>
<line x1="1430.80" y1="972.00" x2="1816.00" y2="972.00" stroke="#E8E8E8" stroke-width="3.2" />
<line x1="1482.60" y1="904.41" x2="1482.60" y2="892.07" stroke="#E2E4E4" stroke-width="3.2" />
<line x1="1482.60" y1="937.53" x2="1482.60" y2="954.91" stroke="#E2E4E4" stroke-width="3.2" />
<rect x="1447.7" y="904.4" width="69.7" height="33.1" fill="none" stroke="#E2E4E4" stroke-width="3.6"/>
<line x1="1447.73" y1="909.14" x2="1517.47" y2="909.14" stroke="#E2E4E4" stroke-width="7.4" />
<ellipse cx="1477.5" cy="891.8" rx="5.6" ry="6.0" fill="#E2E4E4"/>
<ellipse cx="1485.8" cy="905.2" rx="5.6" ry="6.0" fill="#E2E4E4"/>
<ellipse cx="1474.7" cy="909.9" rx="5.6" ry="6.0" fill="#E2E4E4"/>
<ellipse cx="1476.3" cy="938.0" rx="5.6" ry="6.0" fill="#E2E4E4"/>
<ellipse cx="1477.2" cy="956.2" rx="5.6" ry="6.0" fill="#E2E4E4"/>
<line x1="1577.60" y1="824.19" x2="1577.60" y2="794.47" stroke="#333333" stroke-width="3.2" />
<line x1="1577.60" y1="880.76" x2="1577.60" y2="944.93" stroke="#333333" stroke-width="3.2" />
<rect x="1542.7" y="824.2" width="69.7" height="56.6" fill="none" stroke="#333333" stroke-width="3.6"/>
<line x1="1542.73" y1="858.13" x2="1612.47" y2="858.13" stroke="#333333" stroke-width="7.4" />
<ellipse cx="1578.7" cy="793.6" rx="5.3" ry="5.7" fill="#7D50A8" stroke="#6c4396" stroke-width="0.7"/>
<ellipse cx="1584.8" cy="806.9" rx="5.3" ry="5.7" fill="#7D50A8" stroke="#6c4396" stroke-width="0.7"/>
<ellipse cx="1581.5" cy="820.6" rx="5.3" ry="5.7" fill="#7D50A8" stroke="#6c4396" stroke-width="0.7"/>
<ellipse cx="1581.8" cy="835.8" rx="5.3" ry="5.7" fill="#7D50A8" stroke="#6c4396" stroke-width="0.7"/>
<ellipse cx="1568.7" cy="840.8" rx="5.3" ry="5.7" fill="#7D50A8" stroke="#6c4396" stroke-width="0.7"/>
<ellipse cx="1571.7" cy="873.0" rx="5.3" ry="5.7" fill="#7D50A8" stroke="#6c4396" stroke-width="0.7"/>
<ellipse cx="1582.6" cy="881.3" rx="5.3" ry="5.7" fill="#7D50A8" stroke="#6c4396" stroke-width="0.7"/>
<ellipse cx="1578.5" cy="878.8" rx="5.3" ry="5.7" fill="#7D50A8" stroke="#6c4396" stroke-width="0.7"/>
<ellipse cx="1583.4" cy="910.3" rx="5.3" ry="5.7" fill="#7D50A8" stroke="#6c4396" stroke-width="0.7"/>
<ellipse cx="1581.8" cy="944.9" rx="5.3" ry="5.7" fill="#7D50A8" stroke="#6c4396" stroke-width="0.7"/>
<line x1="1668.80" y1="790.97" x2="1668.80" y2="750.35" stroke="#333333" stroke-width="3.2" />
<line x1="1668.80" y1="859.78" x2="1668.80" y2="936.29" stroke="#333333" stroke-width="3.2" />
<rect x="1633.9" y="791.0" width="69.7" height="68.8" fill="none" stroke="#333333" stroke-width="3.6"/>
<line x1="1633.93" y1="823.99" x2="1703.67" y2="823.99" stroke="#333333" stroke-width="7.4" />
<ellipse cx="1665.4" cy="752.8" rx="5.3" ry="5.7" fill="#23914A" stroke="#1c7a3c" stroke-width="0.7"/>
<ellipse cx="1673.6" cy="754.7" rx="5.3" ry="5.7" fill="#23914A" stroke="#1c7a3c" stroke-width="0.7"/>
<ellipse cx="1675.4" cy="759.2" rx="5.3" ry="5.7" fill="#23914A" stroke="#1c7a3c" stroke-width="0.7"/>
<ellipse cx="1660.8" cy="768.3" rx="5.3" ry="5.7" fill="#23914A" stroke="#1c7a3c" stroke-width="0.7"/>
<ellipse cx="1659.9" cy="775.7" rx="5.3" ry="5.7" fill="#23914A" stroke="#1c7a3c" stroke-width="0.7"/>
<ellipse cx="1671.7" cy="773.8" rx="5.3" ry="5.7" fill="#23914A" stroke="#1c7a3c" stroke-width="0.7"/>
<ellipse cx="1675.4" cy="780.2" rx="5.3" ry="5.7" fill="#23914A" stroke="#1c7a3c" stroke-width="0.7"/>
<ellipse cx="1662.6" cy="786.6" rx="5.3" ry="5.7" fill="#23914A" stroke="#1c7a3c" stroke-width="0.7"/>
<ellipse cx="1673.6" cy="788.4" rx="5.3" ry="5.7" fill="#23914A" stroke="#1c7a3c" stroke-width="0.7"/>
<ellipse cx="1667.2" cy="792.1" rx="5.3" ry="5.7" fill="#23914A" stroke="#1c7a3c" stroke-width="0.7"/>
<ellipse cx="1661.7" cy="797.6" rx="5.3" ry="5.7" fill="#23914A" stroke="#1c7a3c" stroke-width="0.7"/>
<ellipse cx="1668.1" cy="799.4" rx="5.3" ry="5.7" fill="#23914A" stroke="#1c7a3c" stroke-width="0.7"/>
<ellipse cx="1676.3" cy="810.3" rx="5.3" ry="5.7" fill="#23914A" stroke="#1c7a3c" stroke-width="0.7"/>
<ellipse cx="1664.5" cy="806.7" rx="5.3" ry="5.7" fill="#23914A" stroke="#1c7a3c" stroke-width="0.7"/>
<ellipse cx="1665.4" cy="812.2" rx="5.3" ry="5.7" fill="#23914A" stroke="#1c7a3c" stroke-width="0.7"/>
<ellipse cx="1660.8" cy="826.8" rx="5.3" ry="5.7" fill="#23914A" stroke="#1c7a3c" stroke-width="0.7"/>
<ellipse cx="1671.7" cy="823.1" rx="5.3" ry="5.7" fill="#23914A" stroke="#1c7a3c" stroke-width="0.7"/>
<ellipse cx="1662.6" cy="834.1" rx="5.3" ry="5.7" fill="#23914A" stroke="#1c7a3c" stroke-width="0.7"/>
<ellipse cx="1674.5" cy="834.1" rx="5.3" ry="5.7" fill="#23914A" stroke="#1c7a3c" stroke-width="0.7"/>
<ellipse cx="1663.6" cy="841.4" rx="5.3" ry="5.7" fill="#23914A" stroke="#1c7a3c" stroke-width="0.7"/>
<ellipse cx="1675.4" cy="841.4" rx="5.3" ry="5.7" fill="#23914A" stroke="#1c7a3c" stroke-width="0.7"/>
<ellipse cx="1665.4" cy="848.7" rx="5.3" ry="5.7" fill="#23914A" stroke="#1c7a3c" stroke-width="0.7"/>
<ellipse cx="1674.5" cy="852.3" rx="5.3" ry="5.7" fill="#23914A" stroke="#1c7a3c" stroke-width="0.7"/>
<ellipse cx="1676.3" cy="856.0" rx="5.3" ry="5.7" fill="#23914A" stroke="#1c7a3c" stroke-width="0.7"/>
<ellipse cx="1662.6" cy="859.6" rx="5.3" ry="5.7" fill="#23914A" stroke="#1c7a3c" stroke-width="0.7"/>
<ellipse cx="1667.2" cy="863.3" rx="5.3" ry="5.7" fill="#23914A" stroke="#1c7a3c" stroke-width="0.7"/>
<ellipse cx="1662.6" cy="870.6" rx="5.3" ry="5.7" fill="#23914A" stroke="#1c7a3c" stroke-width="0.7"/>
<ellipse cx="1669.0" cy="876.1" rx="5.3" ry="5.7" fill="#23914A" stroke="#1c7a3c" stroke-width="0.7"/>
<ellipse cx="1666.3" cy="881.5" rx="5.3" ry="5.7" fill="#23914A" stroke="#1c7a3c" stroke-width="0.7"/>
<ellipse cx="1674.5" cy="888.8" rx="5.3" ry="5.7" fill="#23914A" stroke="#1c7a3c" stroke-width="0.7"/>
<ellipse cx="1664.5" cy="892.5" rx="5.3" ry="5.7" fill="#23914A" stroke="#1c7a3c" stroke-width="0.7"/>
<ellipse cx="1668.1" cy="903.4" rx="5.3" ry="5.7" fill="#23914A" stroke="#1c7a3c" stroke-width="0.7"/>
<ellipse cx="1674.5" cy="923.5" rx="5.3" ry="5.7" fill="#23914A" stroke="#1c7a3c" stroke-width="0.7"/>
<ellipse cx="1662.6" cy="937.2" rx="5.3" ry="5.7" fill="#23914A" stroke="#1c7a3c" stroke-width="0.7"/>
<ellipse cx="1669.9" cy="817.6" rx="5.3" ry="5.7" fill="#23914A" stroke="#1c7a3c" stroke-width="0.7"/>
<ellipse cx="1669.0" cy="830.4" rx="5.3" ry="5.7" fill="#23914A" stroke="#1c7a3c" stroke-width="0.7"/>
<ellipse cx="1668.1" cy="845.0" rx="5.3" ry="5.7" fill="#23914A" stroke="#1c7a3c" stroke-width="0.7"/>
<ellipse cx="1670.8" cy="777.5" rx="5.3" ry="5.7" fill="#23914A" stroke="#1c7a3c" stroke-width="0.7"/>
<ellipse cx="1668.1" cy="764.7" rx="5.3" ry="5.7" fill="#23914A" stroke="#1c7a3c" stroke-width="0.7"/>
<ellipse cx="1659.0" cy="783.0" rx="5.3" ry="5.7" fill="#23914A" stroke="#1c7a3c" stroke-width="0.7"/>
<ellipse cx="1659.9" cy="792.1" rx="5.3" ry="5.7" fill="#23914A" stroke="#1c7a3c" stroke-width="0.7"/>
<ellipse cx="1660.8" cy="815.8" rx="5.3" ry="5.7" fill="#23914A" stroke="#1c7a3c" stroke-width="0.7"/>
<ellipse cx="1659.0" cy="837.7" rx="5.3" ry="5.7" fill="#23914A" stroke="#1c7a3c" stroke-width="0.7"/>
<ellipse cx="1671.7" cy="804.9" rx="5.3" ry="5.7" fill="#23914A" stroke="#1c7a3c" stroke-width="0.7"/>
<ellipse cx="1672.7" cy="839.5" rx="5.3" ry="5.7" fill="#23914A" stroke="#1c7a3c" stroke-width="0.7"/>
<ellipse cx="1660.8" cy="850.5" rx="5.3" ry="5.7" fill="#23914A" stroke="#1c7a3c" stroke-width="0.7"/>
<ellipse cx="1669.9" cy="859.6" rx="5.3" ry="5.7" fill="#23914A" stroke="#1c7a3c" stroke-width="0.7"/>
<ellipse cx="1661.7" cy="877.9" rx="5.3" ry="5.7" fill="#23914A" stroke="#1c7a3c" stroke-width="0.7"/>
<ellipse cx="1665.4" cy="896.1" rx="5.3" ry="5.7" fill="#23914A" stroke="#1c7a3c" stroke-width="0.7"/>
<ellipse cx="1673.6" cy="761.0" rx="5.3" ry="5.7" fill="#23914A" stroke="#1c7a3c" stroke-width="0.7"/>
<ellipse cx="1662.6" cy="759.2" rx="5.3" ry="5.7" fill="#23914A" stroke="#1c7a3c" stroke-width="0.7"/>
<ellipse cx="1659.0" cy="801.2" rx="5.3" ry="5.7" fill="#23914A" stroke="#1c7a3c" stroke-width="0.7"/>
<ellipse cx="1675.4" cy="826.8" rx="5.3" ry="5.7" fill="#23914A" stroke="#1c7a3c" stroke-width="0.7"/>
<ellipse cx="1658.1" cy="819.5" rx="5.3" ry="5.7" fill="#23914A" stroke="#1c7a3c" stroke-width="0.7"/>
<line x1="1760.70" y1="788.51" x2="1760.70" y2="705.31" stroke="#333333" stroke-width="3.2" />
<line x1="1760.70" y1="851.75" x2="1760.70" y2="929.81" stroke="#333333" stroke-width="3.2" />
<rect x="1725.8" y="788.5" width="69.7" height="63.2" fill="none" stroke="#333333" stroke-width="3.6"/>
<line x1="1725.83" y1="822.24" x2="1795.57" y2="822.24" stroke="#333333" stroke-width="7.4" />
<ellipse cx="1766.9" cy="704.2" rx="5.6" ry="6.0" fill="#050505"/>
<ellipse cx="1766.3" cy="717.8" rx="5.6" ry="6.0" fill="#050505"/>
<ellipse cx="1751.8" cy="718.8" rx="5.6" ry="6.0" fill="#050505"/>
<ellipse cx="1769.9" cy="731.8" rx="5.6" ry="6.0" fill="#050505"/>
<ellipse cx="1751.8" cy="731.3" rx="5.6" ry="6.0" fill="#050505"/>
<ellipse cx="1753.8" cy="739.7" rx="5.6" ry="6.0" fill="#050505"/>
<ellipse cx="1756.9" cy="744.9" rx="5.6" ry="6.0" fill="#050505"/>
<ellipse cx="1752.8" cy="756.4" rx="5.6" ry="6.0" fill="#050505"/>
<ellipse cx="1764.3" cy="755.4" rx="5.6" ry="6.0" fill="#050505"/>
<ellipse cx="1767.4" cy="764.7" rx="5.6" ry="6.0" fill="#050505"/>
<ellipse cx="1754.9" cy="764.7" rx="5.6" ry="6.0" fill="#050505"/>
<ellipse cx="1751.8" cy="777.3" rx="5.6" ry="6.0" fill="#050505"/>
<ellipse cx="1768.4" cy="777.3" rx="5.6" ry="6.0" fill="#050505"/>
<ellipse cx="1760.1" cy="775.1" rx="5.6" ry="6.0" fill="#050505"/>
<ellipse cx="1753.8" cy="789.8" rx="5.6" ry="6.0" fill="#050505"/>
<ellipse cx="1766.3" cy="791.9" rx="5.6" ry="6.0" fill="#050505"/>
<ellipse cx="1752.8" cy="801.3" rx="5.6" ry="6.0" fill="#050505"/>
<ellipse cx="1767.4" cy="805.5" rx="5.6" ry="6.0" fill="#050505"/>
<ellipse cx="1758.0" cy="815.9" rx="5.6" ry="6.0" fill="#050505"/>
<ellipse cx="1768.4" cy="815.9" rx="5.6" ry="6.0" fill="#050505"/>
<ellipse cx="1754.4" cy="872.3" rx="5.6" ry="6.0" fill="#050505"/>
<ellipse cx="1753.3" cy="881.4" rx="5.6" ry="6.0" fill="#050505"/>
<ellipse cx="1753.3" cy="890.4" rx="5.6" ry="6.0" fill="#050505"/>
<ellipse cx="1766.9" cy="893.8" rx="5.6" ry="6.0" fill="#050505"/>
<ellipse cx="1756.7" cy="901.7" rx="5.6" ry="6.0" fill="#050505"/>
<ellipse cx="1762.3" cy="910.8" rx="5.6" ry="6.0" fill="#050505"/>
<ellipse cx="1752.2" cy="921.0" rx="5.6" ry="6.0" fill="#050505"/>
<ellipse cx="1755.1" cy="931.1" rx="5.6" ry="6.0" fill="#050505"/>
<ellipse cx="1762.0" cy="962.9" rx="5.6" ry="6.0" fill="#050505"/>
<ellipse cx="1758.6" cy="724.6" rx="5.6" ry="6.0" fill="#050505"/>
<ellipse cx="1756.6" cy="734.9" rx="5.6" ry="6.0" fill="#050505"/>
<ellipse cx="1758.6" cy="750.4" rx="5.6" ry="6.0" fill="#050505"/>
<ellipse cx="1759.7" cy="760.6" rx="5.6" ry="6.0" fill="#050505"/>
<ellipse cx="1760.7" cy="768.9" rx="5.6" ry="6.0" fill="#050505"/>
<ellipse cx="1758.6" cy="783.3" rx="5.6" ry="6.0" fill="#050505"/>
<ellipse cx="1759.7" cy="795.6" rx="5.6" ry="6.0" fill="#050505"/>
<ellipse cx="1758.6" cy="807.9" rx="5.6" ry="6.0" fill="#050505"/>
<ellipse cx="1754.5" cy="812.1" rx="5.6" ry="6.0" fill="#050505"/>
<ellipse cx="1757.6" cy="713.3" rx="5.6" ry="6.0" fill="#050505"/>
<ellipse cx="1756.6" cy="721.6" rx="5.6" ry="6.0" fill="#050505"/>
<ellipse cx="1752.5" cy="725.7" rx="5.6" ry="6.0" fill="#050505"/>
<ellipse cx="1755.6" cy="729.8" rx="5.6" ry="6.0" fill="#050505"/>
<ellipse cx="1762.8" cy="725.7" rx="5.6" ry="6.0" fill="#050505"/>
<ellipse cx="1763.8" cy="738.0" rx="5.6" ry="6.0" fill="#050505"/>
<ellipse cx="1757.6" cy="741.1" rx="5.6" ry="6.0" fill="#050505"/>
<ellipse cx="1751.5" cy="747.3" rx="5.6" ry="6.0" fill="#050505"/>
<ellipse cx="1756.6" cy="752.4" rx="5.6" ry="6.0" fill="#050505"/>
<ellipse cx="1761.7" cy="747.3" rx="5.6" ry="6.0" fill="#050505"/>
<ellipse cx="1762.8" cy="760.6" rx="5.6" ry="6.0" fill="#050505"/>
<ellipse cx="1752.5" cy="768.9" rx="5.6" ry="6.0" fill="#050505"/>
<ellipse cx="1757.6" cy="773.0" rx="5.6" ry="6.0" fill="#050505"/>
<ellipse cx="1763.8" cy="770.9" rx="5.6" ry="6.0" fill="#050505"/>
<ellipse cx="1764.8" cy="783.3" rx="5.6" ry="6.0" fill="#050505"/>
<ellipse cx="1752.5" cy="784.3" rx="5.6" ry="6.0" fill="#050505"/>
<ellipse cx="1756.6" cy="789.4" rx="5.6" ry="6.0" fill="#050505"/>
<ellipse cx="1760.7" cy="800.7" rx="5.6" ry="6.0" fill="#050505"/>
<ellipse cx="1755.6" cy="805.9" rx="5.6" ry="6.0" fill="#050505"/>
<ellipse cx="1763.8" cy="810.0" rx="5.6" ry="6.0" fill="#050505"/>
<ellipse cx="1752.5" cy="814.1" rx="5.6" ry="6.0" fill="#050505"/>
<ellipse cx="1758.6" cy="875.8" rx="5.6" ry="6.0" fill="#050505"/>
<ellipse cx="1757.6" cy="885.1" rx="5.6" ry="6.0" fill="#050505"/>
<ellipse cx="1759.7" cy="898.4" rx="5.6" ry="6.0" fill="#050505"/>
<ellipse cx="1755.6" cy="867.6" rx="5.6" ry="6.0" fill="#050505"/>
<ellipse cx="1754.1" cy="810.0" rx="5.6" ry="6.0" fill="#050505"/>
<ellipse cx="1758.2" cy="810.0" rx="5.6" ry="6.0" fill="#050505"/>
<ellipse cx="1762.3" cy="810.0" rx="5.6" ry="6.0" fill="#050505"/>
<ellipse cx="1766.4" cy="810.0" rx="5.6" ry="6.0" fill="#050505"/>
<ellipse cx="1768.3" cy="810.0" rx="5.6" ry="6.0" fill="#050505"/>
<ellipse cx="1754.1" cy="816.2" rx="5.6" ry="6.0" fill="#050505"/>
<ellipse cx="1758.2" cy="816.2" rx="5.6" ry="6.0" fill="#050505"/>
<ellipse cx="1762.3" cy="816.2" rx="5.6" ry="6.0" fill="#050505"/>
<ellipse cx="1766.4" cy="816.2" rx="5.6" ry="6.0" fill="#050505"/>
<ellipse cx="1768.3" cy="816.2" rx="5.6" ry="6.0" fill="#050505"/>
<ellipse cx="1755.2" cy="822.3" rx="5.6" ry="6.0" fill="#050505"/>
<ellipse cx="1759.3" cy="822.3" rx="5.6" ry="6.0" fill="#050505"/>
<ellipse cx="1763.4" cy="822.3" rx="5.6" ry="6.0" fill="#050505"/>
<ellipse cx="1767.5" cy="822.3" rx="5.6" ry="6.0" fill="#050505"/>
<ellipse cx="1768.3" cy="822.3" rx="5.6" ry="6.0" fill="#050505"/>
<ellipse cx="1754.1" cy="828.5" rx="5.6" ry="6.0" fill="#050505"/>
<ellipse cx="1758.2" cy="828.5" rx="5.6" ry="6.0" fill="#050505"/>
<ellipse cx="1762.3" cy="828.5" rx="5.6" ry="6.0" fill="#050505"/>
<ellipse cx="1766.4" cy="828.5" rx="5.6" ry="6.0" fill="#050505"/>
<ellipse cx="1769.3" cy="828.5" rx="5.6" ry="6.0" fill="#050505"/>
<ellipse cx="1755.2" cy="834.7" rx="5.6" ry="6.0" fill="#050505"/>
<ellipse cx="1759.3" cy="834.7" rx="5.6" ry="6.0" fill="#050505"/>
<ellipse cx="1763.4" cy="834.7" rx="5.6" ry="6.0" fill="#050505"/>
<ellipse cx="1767.5" cy="834.7" rx="5.6" ry="6.0" fill="#050505"/>
<ellipse cx="1768.3" cy="834.7" rx="5.6" ry="6.0" fill="#050505"/>
<ellipse cx="1754.1" cy="840.9" rx="5.6" ry="6.0" fill="#050505"/>
<ellipse cx="1758.2" cy="840.9" rx="5.6" ry="6.0" fill="#050505"/>
<ellipse cx="1762.3" cy="840.9" rx="5.6" ry="6.0" fill="#050505"/>
<ellipse cx="1766.4" cy="840.9" rx="5.6" ry="6.0" fill="#050505"/>
<ellipse cx="1768.3" cy="840.9" rx="5.6" ry="6.0" fill="#050505"/>
<ellipse cx="1755.2" cy="847.0" rx="5.6" ry="6.0" fill="#050505"/>
<ellipse cx="1759.3" cy="847.0" rx="5.6" ry="6.0" fill="#050505"/>
<ellipse cx="1763.4" cy="847.0" rx="5.6" ry="6.0" fill="#050505"/>
<ellipse cx="1767.5" cy="847.0" rx="5.6" ry="6.0" fill="#050505"/>
<ellipse cx="1769.3" cy="847.0" rx="5.6" ry="6.0" fill="#050505"/>
<ellipse cx="1754.1" cy="853.2" rx="5.6" ry="6.0" fill="#050505"/>
<ellipse cx="1758.2" cy="853.2" rx="5.6" ry="6.0" fill="#050505"/>
<ellipse cx="1762.3" cy="853.2" rx="5.6" ry="6.0" fill="#050505"/>
<ellipse cx="1766.4" cy="853.2" rx="5.6" ry="6.0" fill="#050505"/>
<ellipse cx="1768.3" cy="853.2" rx="5.6" ry="6.0" fill="#050505"/>
<ellipse cx="1755.2" cy="859.4" rx="5.6" ry="6.0" fill="#050505"/>
<ellipse cx="1759.3" cy="859.4" rx="5.6" ry="6.0" fill="#050505"/>
<ellipse cx="1763.4" cy="859.4" rx="5.6" ry="6.0" fill="#050505"/>
<ellipse cx="1767.3" cy="859.4" rx="5.6" ry="6.0" fill="#050505"/>
<ellipse cx="1756.2" cy="865.5" rx="5.6" ry="6.0" fill="#050505"/>
<ellipse cx="1760.3" cy="865.5" rx="5.6" ry="6.0" fill="#050505"/>
<ellipse cx="1764.4" cy="865.5" rx="5.6" ry="6.0" fill="#050505"/>
<ellipse cx="1765.2" cy="865.5" rx="5.6" ry="6.0" fill="#050505"/>
<rect x="1430.8" y="692.7" width="385.2" height="283.5" fill="none" stroke="#333333" stroke-width="1.9"/>
<line x1="1424.50" y1="712.30" x2="1430.80" y2="712.30" stroke="#333333" stroke-width="3.4" />
<text x="1397.00" y="721.70" font-size="27" fill="#474747">2</text>
<line x1="1424.50" y1="764.40" x2="1430.80" y2="764.40" stroke="#333333" stroke-width="3.4" />
<text x="1397.00" y="773.80" font-size="27" fill="#474747">1</text>
<line x1="1424.50" y1="816.50" x2="1430.80" y2="816.50" stroke="#333333" stroke-width="3.4" />
<text x="1397.00" y="825.90" font-size="27" fill="#474747">0</text>
<line x1="1424.50" y1="868.60" x2="1430.80" y2="868.60" stroke="#333333" stroke-width="3.4" />
<text x="1382.00" y="878.00" font-size="27" fill="#474747">−1</text>
<line x1="1424.50" y1="920.70" x2="1430.80" y2="920.70" stroke="#333333" stroke-width="3.4" />
<text x="1382.00" y="930.10" font-size="27" fill="#474747">−2</text>
<line x1="1424.50" y1="972.80" x2="1430.80" y2="972.80" stroke="#333333" stroke-width="3.4" />
<text x="1381.00" y="982.20" font-size="27" fill="#474747">−3</text>
<line x1="1485.20" y1="976.20" x2="1485.20" y2="983.40" stroke="#333333" stroke-width="3.6" />
<line x1="1577.20" y1="976.20" x2="1577.20" y2="983.40" stroke="#333333" stroke-width="3.6" />
<line x1="1668.60" y1="976.20" x2="1668.60" y2="983.40" stroke="#333333" stroke-width="3.6" />
<line x1="1760.60" y1="976.20" x2="1760.60" y2="983.40" stroke="#333333" stroke-width="3.6" />
<text x="1453.40" y="1014.40" font-size="27" fill="#474747">[1, 1]</text>
<text x="1547.10" y="1014.40" font-size="27" fill="#474747">[1, 0]</text>
<text x="1638.20" y="1014.40" font-size="27" fill="#474747">[0, 1]</text>
<text x="1728.00" y="1014.40" font-size="27" fill="#474747">[0, 0]</text>
<text transform="translate(1367.60,861.00) rotate(-90)" font-size="27" fill="#111111">signal</text>
<rect x="1450" y="837.6" width="67" height="43.5" fill="none" stroke="#333" stroke-width="3.2" stroke-dasharray="7.5,5"/>
<line x1="1452.00" y1="873.60" x2="1517.00" y2="873.60" stroke="#333" stroke-width="7" stroke-dasharray="7.5,5"/>
<line x1="1482.80" y1="812.80" x2="1482.80" y2="836.00" stroke="#333333" stroke-width="3.2" />
<line x1="1482.80" y1="882.70" x2="1482.80" y2="909.70" stroke="#333333" stroke-width="3.2" />
<ellipse cx="1490.1" cy="805.4" rx="5.3" ry="5.7" fill="#7D50A8" stroke="#6c4396" stroke-width="0.7"/>
<ellipse cx="1485.2" cy="834.8" rx="5.3" ry="5.7" fill="#7D50A8" stroke="#6c4396" stroke-width="0.7"/>
<ellipse cx="1474.2" cy="872.9" rx="5.3" ry="5.7" fill="#7D50A8" stroke="#6c4396" stroke-width="0.7"/>
<ellipse cx="1487.0" cy="880.3" rx="5.3" ry="5.7" fill="#7D50A8" stroke="#6c4396" stroke-width="0.7"/>
<ellipse cx="1486.0" cy="909.7" rx="5.3" ry="5.7" fill="#7D50A8" stroke="#6c4396" stroke-width="0.7"/>
<text x="1457.50" y="728.90" font-size="31" fill="#111111">Bootstrapping</text>
<path d="M1570,781.5 L1549,755 C1543,748.5 1538.5,746.8 1533.5,747.4 C1527,748.2 1520,753 1513.5,762" fill="none" stroke="#333" stroke-width="2.9"/>
<path d="M1500.2,781.4 Q1504,766 1511.1,753 L1513.9,761.4 L1525,763.9 Q1511,771 1500.2,781.4 Z" fill="#333"/>
<rect x="1256.1" y="812.1" width="49" height="7.1" fill="#333"/>
<path d="M1329.70,815.40 Q1313.60,821.80 1297.50,833.40 Q1300.80,823.50 1303.50,815.40 Q1300.80,807.30 1297.50,797.40 Q1313.60,809.00 1329.70,815.40 Z" fill="#333"/>
<line x1="1287.10" y1="844.60" x2="1287.10" y2="1107.50" stroke="#222" stroke-width="3.6" />
<rect x="1028.0" y="1035.8" width="7.2" height="47" fill="#333"/>
<path d="M1031.60,1109.40 Q1025.30,1093.25 1013.80,1077.10 Q1023.59,1079.47 1031.60,1081.40 Q1039.61,1079.47 1049.40,1077.10 Q1037.90,1093.25 1031.60,1109.40 Z" fill="#333"/>
<rect x="1619.2" y="1032.2" width="7.2" height="47" fill="#333"/>
<path d="M1622.80,1105.50 Q1616.30,1089.25 1604.60,1073.00 Q1614.61,1075.37 1622.80,1077.30 Q1630.99,1075.37 1641.00,1073.00 Q1629.30,1089.25 1622.80,1105.50 Z" fill="#333"/>
<text x="954.90" y="1143.40" font-size="27" fill="#111111">Observed BF:</text>
<text x="1015.60" y="1175.60" font-size="27" fill="#111111">120</text>
<text x="1239.30" y="1143.40" font-size="27" fill="#111111">Repeat</text>
<text x="1236.30" y="1175.60" font-size="27" fill="#111111">10 times</text>
<text x="1549.30" y="1143.90" font-size="27" fill="#111111">Expected BF</text>
<text x="1540.90" y="1175.60" font-size="27" fill="#111111">[median]: 1.45</text>
<text x="1891.30" y="756.70" font-size="27" fill="#111111">Indirect BF =</text>
<text x="1839.90" y="840.50" font-size="27" fill="#111111">=</text>
<text x="1883.00" y="815.60" font-size="27" fill="#111111">Observed BF</text>
<line x1="1881.80" y1="830.40" x2="2042.20" y2="830.40" stroke="#222" stroke-width="2" />
<text x="1884.40" y="867.40" font-size="27" fill="#111111">Expected BF</text>
<text x="2059.90" y="839.40" font-size="27" fill="#111111">= 82</text>
</svg>
</body></html>
